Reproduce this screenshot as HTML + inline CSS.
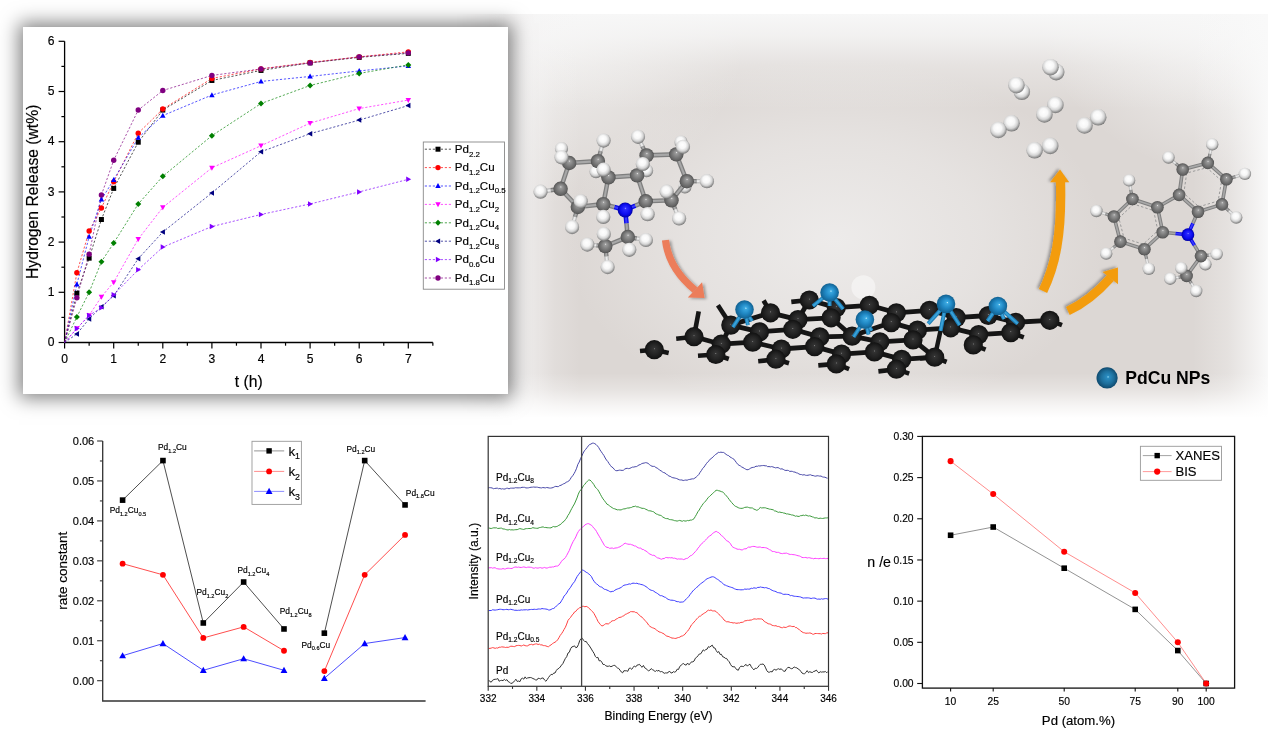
<!DOCTYPE html>
<html><head><meta charset="utf-8"><title>Figure</title>
<style>
html,body{margin:0;padding:0;background:#fff;}
body{width:1268px;height:732px;overflow:hidden;position:relative;}
#panel{position:absolute;left:455px;top:14px;width:813px;height:404px;
-webkit-mask-image:linear-gradient(to right, transparent 0px, #000 50px);mask-image:linear-gradient(to right, transparent 0px, #000 50px);
background:
linear-gradient(to top, #fff 0px, rgba(255,255,255,0.75) 12px, rgba(255,255,255,0.3) 28px, rgba(255,255,255,0) 45px),
linear-gradient(to left, rgba(249,249,249,1) 0px, rgba(249,249,249,0.75) 14px, rgba(249,249,249,0.3) 40px, rgba(249,249,249,0) 75px),
linear-gradient(to right, rgba(245,244,244,0.95) 60px, rgba(245,244,244,0.6) 78px, rgba(245,244,244,0.2) 100px, rgba(245,244,244,0) 125px),
linear-gradient(to bottom, rgba(247,247,247,1) 0px, rgba(247,247,247,0.8) 22px, rgba(247,247,247,0.35) 52px, rgba(247,247,247,0) 95px),
radial-gradient(ellipse 230px 170px at 813px 0px, rgba(249,249,249,1) 0%, rgba(249,249,249,0.5) 50%, rgba(249,249,249,0) 100%),
radial-gradient(ellipse 200px 170px at 90px 20px, rgba(242,241,240,0.9) 0%, rgba(242,241,240,0) 100%),
radial-gradient(ellipse 270px 180px at 380px 225px, rgba(237,235,234,1) 0%, rgba(237,235,234,0.55) 55%, rgba(237,235,234,0) 100%),
#dcd7d4;}
#box1{position:absolute;left:23px;top:27px;width:485px;height:367px;background:#fff;box-shadow:0 0 18px 4px rgba(0,0,0,0.5);}
svg{position:absolute;left:0;top:0;}
#plots text{stroke:#000;stroke-width:0.16px;}
</style></head><body>
<div id="panel"></div>
<svg width="1268" height="732" viewBox="0 0 1268 732">
<defs>
<radialGradient id="gC" cx="0.5" cy="0.5" r="0.5" fx="0.52" fy="0.36"><stop offset="0" stop-color="#e8e8e8"/><stop offset="0.14" stop-color="#9c9c9c"/><stop offset="0.55" stop-color="#7b7b7b"/><stop offset="0.88" stop-color="#616161"/><stop offset="1" stop-color="#4a4a4a"/></radialGradient>
<radialGradient id="gH" cx="0.46" cy="0.42" r="0.6" fx="0.45" fy="0.36"><stop offset="0" stop-color="#ffffff"/><stop offset="0.4" stop-color="#f7f7f7"/><stop offset="0.68" stop-color="#d4d4d4"/><stop offset="0.84" stop-color="#a0a0a0"/><stop offset="1" stop-color="#6a6a6a"/></radialGradient>
<radialGradient id="gN" cx="0.5" cy="0.5" r="0.5" fx="0.52" fy="0.38"><stop offset="0" stop-color="#a0a0ff"/><stop offset="0.15" stop-color="#2a2aff"/><stop offset="0.7" stop-color="#0a0aee"/><stop offset="1" stop-color="#0000a0"/></radialGradient>
<radialGradient id="gG" cx="0.5" cy="0.5" r="0.5" fx="0.5" fy="0.45"><stop offset="0" stop-color="#8a8a8a"/><stop offset="0.09" stop-color="#333"/><stop offset="0.6" stop-color="#222"/><stop offset="1" stop-color="#111"/></radialGradient>
<radialGradient id="gP2" cx="0.5" cy="0.5" r="0.5" fx="0.55" fy="0.45"><stop offset="0" stop-color="#8fd8f5"/><stop offset="0.12" stop-color="#2a8cc0"/><stop offset="0.6" stop-color="#1d6f9c"/><stop offset="1" stop-color="#0f4a6e"/></radialGradient>
<radialGradient id="gP" cx="0.5" cy="0.5" r="0.5" fx="0.58" fy="0.42"><stop offset="0" stop-color="#c8f0ff"/><stop offset="0.12" stop-color="#3aa8e0"/><stop offset="0.55" stop-color="#1f86c2"/><stop offset="1" stop-color="#11608f"/></radialGradient>
<filter id="sh" x="-30%" y="-30%" width="160%" height="160%"><feGaussianBlur in="SourceAlpha" stdDeviation="1.8"/><feOffset dx="-1.8" dy="-1.5"/><feComponentTransfer><feFuncA type="linear" slope="0.35"/></feComponentTransfer><feMerge><feMergeNode/><feMergeNode in="SourceGraphic"/></feMerge></filter>
<filter id="sh2" x="-30%" y="-30%" width="160%" height="160%"><feGaussianBlur in="SourceAlpha" stdDeviation="1.8"/><feOffset dx="2.2" dy="0.5"/><feComponentTransfer><feFuncA type="linear" slope="0.35"/></feComponentTransfer><feMerge><feMergeNode/><feMergeNode in="SourceGraphic"/></feMerge></filter>
</defs>
<line x1="569.2" y1="163" x2="565.35" y2="155.85" stroke="#7e7e7e" stroke-width="4.6"/>
<line x1="569.2" y1="163" x2="565.35" y2="155.85" stroke="#a8a8a8" stroke-width="2.07"/>
<line x1="565.35" y1="155.85" x2="561.5" y2="148.7" stroke="#bcbcbc" stroke-width="4.6"/>
<line x1="565.35" y1="155.85" x2="561.5" y2="148.7" stroke="#ececec" stroke-width="2.07"/>
<circle cx="561.5" cy="148.7" r="6.6" fill="url(#gH)"/>
<line x1="676.3" y1="154.4" x2="678.65" y2="148.2" stroke="#7e7e7e" stroke-width="4.6"/>
<line x1="676.3" y1="154.4" x2="678.65" y2="148.2" stroke="#a8a8a8" stroke-width="2.07"/>
<line x1="678.65" y1="148.2" x2="681" y2="142" stroke="#bcbcbc" stroke-width="4.6"/>
<line x1="678.65" y1="148.2" x2="681" y2="142" stroke="#ececec" stroke-width="2.07"/>
<circle cx="681" cy="142" r="6.6" fill="url(#gH)"/>
<line x1="608.4" y1="177.4" x2="602.2" y2="174.5" stroke="#7e7e7e" stroke-width="4.6"/>
<line x1="608.4" y1="177.4" x2="602.2" y2="174.5" stroke="#a8a8a8" stroke-width="2.07"/>
<line x1="602.2" y1="174.5" x2="596" y2="171.6" stroke="#bcbcbc" stroke-width="4.6"/>
<line x1="602.2" y1="174.5" x2="596" y2="171.6" stroke="#ececec" stroke-width="2.07"/>
<circle cx="596" cy="171.6" r="6.6" fill="url(#gH)"/>
<line x1="637.1" y1="175.4" x2="641.85" y2="173.05" stroke="#7e7e7e" stroke-width="4.6"/>
<line x1="637.1" y1="175.4" x2="641.85" y2="173.05" stroke="#a8a8a8" stroke-width="2.07"/>
<line x1="641.85" y1="173.05" x2="646.6" y2="170.7" stroke="#bcbcbc" stroke-width="4.6"/>
<line x1="641.85" y1="173.05" x2="646.6" y2="170.7" stroke="#ececec" stroke-width="2.07"/>
<circle cx="646.6" cy="170.7" r="6.6" fill="url(#gH)"/>
<line x1="686.8" y1="181.2" x2="685.85" y2="184.05" stroke="#7e7e7e" stroke-width="4.6"/>
<line x1="686.8" y1="181.2" x2="685.85" y2="184.05" stroke="#a8a8a8" stroke-width="2.07"/>
<line x1="685.85" y1="184.05" x2="684.9" y2="186.9" stroke="#bcbcbc" stroke-width="4.6"/>
<line x1="685.85" y1="184.05" x2="684.9" y2="186.9" stroke="#ececec" stroke-width="2.07"/>
<circle cx="684.9" cy="186.9" r="6.6" fill="url(#gH)"/>
<line x1="569.2" y1="163" x2="597.9" y2="161.1" stroke="#7e7e7e" stroke-width="4.6"/>
<line x1="569.2" y1="163" x2="597.9" y2="161.1" stroke="#a8a8a8" stroke-width="2.07"/>
<line x1="569.2" y1="163" x2="560.6" y2="188.8" stroke="#7e7e7e" stroke-width="4.6"/>
<line x1="569.2" y1="163" x2="560.6" y2="188.8" stroke="#a8a8a8" stroke-width="2.07"/>
<line x1="560.6" y1="188.8" x2="577.8" y2="207" stroke="#7e7e7e" stroke-width="4.6"/>
<line x1="560.6" y1="188.8" x2="577.8" y2="207" stroke="#a8a8a8" stroke-width="2.07"/>
<line x1="577.8" y1="207" x2="603.3" y2="204.1" stroke="#7e7e7e" stroke-width="4.6"/>
<line x1="577.8" y1="207" x2="603.3" y2="204.1" stroke="#a8a8a8" stroke-width="2.07"/>
<line x1="603.3" y1="204.1" x2="608.4" y2="177.4" stroke="#7e7e7e" stroke-width="4.6"/>
<line x1="603.3" y1="204.1" x2="608.4" y2="177.4" stroke="#a8a8a8" stroke-width="2.07"/>
<line x1="608.4" y1="177.4" x2="597.9" y2="161.1" stroke="#7e7e7e" stroke-width="4.6"/>
<line x1="608.4" y1="177.4" x2="597.9" y2="161.1" stroke="#a8a8a8" stroke-width="2.07"/>
<line x1="608.4" y1="177.4" x2="637.1" y2="175.4" stroke="#7e7e7e" stroke-width="4.6"/>
<line x1="608.4" y1="177.4" x2="637.1" y2="175.4" stroke="#a8a8a8" stroke-width="2.07"/>
<line x1="637.1" y1="175.4" x2="646.6" y2="155.4" stroke="#7e7e7e" stroke-width="4.6"/>
<line x1="637.1" y1="175.4" x2="646.6" y2="155.4" stroke="#a8a8a8" stroke-width="2.07"/>
<line x1="646.6" y1="155.4" x2="676.3" y2="154.4" stroke="#7e7e7e" stroke-width="4.6"/>
<line x1="646.6" y1="155.4" x2="676.3" y2="154.4" stroke="#a8a8a8" stroke-width="2.07"/>
<line x1="676.3" y1="154.4" x2="686.8" y2="181.2" stroke="#7e7e7e" stroke-width="4.6"/>
<line x1="676.3" y1="154.4" x2="686.8" y2="181.2" stroke="#a8a8a8" stroke-width="2.07"/>
<line x1="686.8" y1="181.2" x2="671.5" y2="200.3" stroke="#7e7e7e" stroke-width="4.6"/>
<line x1="686.8" y1="181.2" x2="671.5" y2="200.3" stroke="#a8a8a8" stroke-width="2.07"/>
<line x1="671.5" y1="200.3" x2="645.7" y2="201.3" stroke="#7e7e7e" stroke-width="4.6"/>
<line x1="671.5" y1="200.3" x2="645.7" y2="201.3" stroke="#a8a8a8" stroke-width="2.07"/>
<line x1="645.7" y1="201.3" x2="637.1" y2="175.4" stroke="#7e7e7e" stroke-width="4.6"/>
<line x1="645.7" y1="201.3" x2="637.1" y2="175.4" stroke="#a8a8a8" stroke-width="2.07"/>
<line x1="625.2" y1="210" x2="614.25" y2="207.05" stroke="#0a0ae8" stroke-width="4.6"/>
<line x1="625.2" y1="210" x2="614.25" y2="207.05" stroke="#3a3aff" stroke-width="2.07"/>
<line x1="614.25" y1="207.05" x2="603.3" y2="204.1" stroke="#7e7e7e" stroke-width="4.6"/>
<line x1="614.25" y1="207.05" x2="603.3" y2="204.1" stroke="#a8a8a8" stroke-width="2.07"/>
<line x1="625.2" y1="210" x2="635.45" y2="205.65" stroke="#0a0ae8" stroke-width="4.6"/>
<line x1="625.2" y1="210" x2="635.45" y2="205.65" stroke="#3a3aff" stroke-width="2.07"/>
<line x1="635.45" y1="205.65" x2="645.7" y2="201.3" stroke="#7e7e7e" stroke-width="4.6"/>
<line x1="635.45" y1="205.65" x2="645.7" y2="201.3" stroke="#a8a8a8" stroke-width="2.07"/>
<line x1="625.2" y1="210" x2="626.5" y2="223.5" stroke="#0a0ae8" stroke-width="4.6"/>
<line x1="625.2" y1="210" x2="626.5" y2="223.5" stroke="#3a3aff" stroke-width="2.07"/>
<line x1="626.5" y1="223.5" x2="627.8" y2="237" stroke="#7e7e7e" stroke-width="4.6"/>
<line x1="626.5" y1="223.5" x2="627.8" y2="237" stroke="#a8a8a8" stroke-width="2.07"/>
<line x1="627.8" y1="237" x2="605.3" y2="246.1" stroke="#7e7e7e" stroke-width="4.6"/>
<line x1="627.8" y1="237" x2="605.3" y2="246.1" stroke="#a8a8a8" stroke-width="2.07"/>
<line x1="569.2" y1="163" x2="565.35" y2="160.15" stroke="#7e7e7e" stroke-width="4.4"/>
<line x1="569.2" y1="163" x2="565.35" y2="160.15" stroke="#a8a8a8" stroke-width="1.98"/>
<line x1="565.35" y1="160.15" x2="561.5" y2="157.3" stroke="#bcbcbc" stroke-width="4.4"/>
<line x1="565.35" y1="160.15" x2="561.5" y2="157.3" stroke="#ececec" stroke-width="1.98"/>
<line x1="597.9" y1="161.1" x2="600.75" y2="150.85" stroke="#7e7e7e" stroke-width="4.4"/>
<line x1="597.9" y1="161.1" x2="600.75" y2="150.85" stroke="#a8a8a8" stroke-width="1.98"/>
<line x1="600.75" y1="150.85" x2="603.6" y2="140.6" stroke="#bcbcbc" stroke-width="4.4"/>
<line x1="600.75" y1="150.85" x2="603.6" y2="140.6" stroke="#ececec" stroke-width="1.98"/>
<line x1="646.6" y1="155.4" x2="642.3" y2="146.1" stroke="#7e7e7e" stroke-width="4.4"/>
<line x1="646.6" y1="155.4" x2="642.3" y2="146.1" stroke="#a8a8a8" stroke-width="1.98"/>
<line x1="642.3" y1="146.1" x2="638" y2="136.8" stroke="#bcbcbc" stroke-width="4.4"/>
<line x1="642.3" y1="146.1" x2="638" y2="136.8" stroke="#ececec" stroke-width="1.98"/>
<line x1="676.3" y1="154.4" x2="679.65" y2="150.6" stroke="#7e7e7e" stroke-width="4.4"/>
<line x1="676.3" y1="154.4" x2="679.65" y2="150.6" stroke="#a8a8a8" stroke-width="1.98"/>
<line x1="679.65" y1="150.6" x2="683" y2="146.8" stroke="#bcbcbc" stroke-width="4.4"/>
<line x1="679.65" y1="150.6" x2="683" y2="146.8" stroke="#ececec" stroke-width="1.98"/>
<line x1="560.6" y1="188.8" x2="550.55" y2="190.25" stroke="#7e7e7e" stroke-width="4.4"/>
<line x1="560.6" y1="188.8" x2="550.55" y2="190.25" stroke="#a8a8a8" stroke-width="1.98"/>
<line x1="550.55" y1="190.25" x2="540.5" y2="191.7" stroke="#bcbcbc" stroke-width="4.4"/>
<line x1="550.55" y1="190.25" x2="540.5" y2="191.7" stroke="#ececec" stroke-width="1.98"/>
<line x1="577.8" y1="207" x2="579.25" y2="204.15" stroke="#7e7e7e" stroke-width="4.4"/>
<line x1="577.8" y1="207" x2="579.25" y2="204.15" stroke="#a8a8a8" stroke-width="1.98"/>
<line x1="579.25" y1="204.15" x2="580.7" y2="201.3" stroke="#bcbcbc" stroke-width="4.4"/>
<line x1="579.25" y1="204.15" x2="580.7" y2="201.3" stroke="#ececec" stroke-width="1.98"/>
<line x1="577.8" y1="207" x2="574.95" y2="217.05" stroke="#7e7e7e" stroke-width="4.4"/>
<line x1="577.8" y1="207" x2="574.95" y2="217.05" stroke="#a8a8a8" stroke-width="1.98"/>
<line x1="574.95" y1="217.05" x2="572.1" y2="227.1" stroke="#bcbcbc" stroke-width="4.4"/>
<line x1="574.95" y1="217.05" x2="572.1" y2="227.1" stroke="#ececec" stroke-width="1.98"/>
<line x1="608.4" y1="177.4" x2="606" y2="173.55" stroke="#7e7e7e" stroke-width="4.4"/>
<line x1="608.4" y1="177.4" x2="606" y2="173.55" stroke="#a8a8a8" stroke-width="1.98"/>
<line x1="606" y1="173.55" x2="603.6" y2="169.7" stroke="#bcbcbc" stroke-width="4.4"/>
<line x1="606" y1="173.55" x2="603.6" y2="169.7" stroke="#ececec" stroke-width="1.98"/>
<line x1="637.1" y1="175.4" x2="639.95" y2="169.7" stroke="#7e7e7e" stroke-width="4.4"/>
<line x1="637.1" y1="175.4" x2="639.95" y2="169.7" stroke="#a8a8a8" stroke-width="1.98"/>
<line x1="639.95" y1="169.7" x2="642.8" y2="164" stroke="#bcbcbc" stroke-width="4.4"/>
<line x1="639.95" y1="169.7" x2="642.8" y2="164" stroke="#ececec" stroke-width="1.98"/>
<line x1="686.8" y1="181.2" x2="696.85" y2="181.2" stroke="#7e7e7e" stroke-width="4.4"/>
<line x1="686.8" y1="181.2" x2="696.85" y2="181.2" stroke="#a8a8a8" stroke-width="1.98"/>
<line x1="696.85" y1="181.2" x2="706.9" y2="181.2" stroke="#bcbcbc" stroke-width="4.4"/>
<line x1="696.85" y1="181.2" x2="706.9" y2="181.2" stroke="#ececec" stroke-width="1.98"/>
<line x1="671.5" y1="200.3" x2="669.1" y2="196" stroke="#7e7e7e" stroke-width="4.4"/>
<line x1="671.5" y1="200.3" x2="669.1" y2="196" stroke="#a8a8a8" stroke-width="1.98"/>
<line x1="669.1" y1="196" x2="666.7" y2="191.7" stroke="#bcbcbc" stroke-width="4.4"/>
<line x1="669.1" y1="196" x2="666.7" y2="191.7" stroke="#ececec" stroke-width="1.98"/>
<line x1="603.3" y1="204.1" x2="603.3" y2="210.5" stroke="#7e7e7e" stroke-width="4.4"/>
<line x1="603.3" y1="204.1" x2="603.3" y2="210.5" stroke="#a8a8a8" stroke-width="1.98"/>
<line x1="603.3" y1="210.5" x2="603.3" y2="216.9" stroke="#bcbcbc" stroke-width="4.4"/>
<line x1="603.3" y1="210.5" x2="603.3" y2="216.9" stroke="#ececec" stroke-width="1.98"/>
<line x1="645.7" y1="201.3" x2="646.65" y2="207.75" stroke="#7e7e7e" stroke-width="4.4"/>
<line x1="645.7" y1="201.3" x2="646.65" y2="207.75" stroke="#a8a8a8" stroke-width="1.98"/>
<line x1="646.65" y1="207.75" x2="647.6" y2="214.2" stroke="#bcbcbc" stroke-width="4.4"/>
<line x1="646.65" y1="207.75" x2="647.6" y2="214.2" stroke="#ececec" stroke-width="1.98"/>
<line x1="671.5" y1="200.3" x2="675.3" y2="209.4" stroke="#7e7e7e" stroke-width="4.4"/>
<line x1="671.5" y1="200.3" x2="675.3" y2="209.4" stroke="#a8a8a8" stroke-width="1.98"/>
<line x1="675.3" y1="209.4" x2="679.1" y2="218.5" stroke="#bcbcbc" stroke-width="4.4"/>
<line x1="675.3" y1="209.4" x2="679.1" y2="218.5" stroke="#ececec" stroke-width="1.98"/>
<line x1="605.3" y1="246.1" x2="604.55" y2="240.05" stroke="#7e7e7e" stroke-width="4.4"/>
<line x1="605.3" y1="246.1" x2="604.55" y2="240.05" stroke="#a8a8a8" stroke-width="1.98"/>
<line x1="604.55" y1="240.05" x2="603.8" y2="234" stroke="#bcbcbc" stroke-width="4.4"/>
<line x1="604.55" y1="240.05" x2="603.8" y2="234" stroke="#ececec" stroke-width="1.98"/>
<line x1="605.3" y1="246.1" x2="596.3" y2="245.35" stroke="#7e7e7e" stroke-width="4.4"/>
<line x1="605.3" y1="246.1" x2="596.3" y2="245.35" stroke="#a8a8a8" stroke-width="1.98"/>
<line x1="596.3" y1="245.35" x2="587.3" y2="244.6" stroke="#bcbcbc" stroke-width="4.4"/>
<line x1="596.3" y1="245.35" x2="587.3" y2="244.6" stroke="#ececec" stroke-width="1.98"/>
<line x1="605.3" y1="246.1" x2="606.45" y2="256.6" stroke="#7e7e7e" stroke-width="4.4"/>
<line x1="605.3" y1="246.1" x2="606.45" y2="256.6" stroke="#a8a8a8" stroke-width="1.98"/>
<line x1="606.45" y1="256.6" x2="607.6" y2="267.1" stroke="#bcbcbc" stroke-width="4.4"/>
<line x1="606.45" y1="256.6" x2="607.6" y2="267.1" stroke="#ececec" stroke-width="1.98"/>
<line x1="627.8" y1="237" x2="636.85" y2="238.5" stroke="#7e7e7e" stroke-width="4.4"/>
<line x1="627.8" y1="237" x2="636.85" y2="238.5" stroke="#a8a8a8" stroke-width="1.98"/>
<line x1="636.85" y1="238.5" x2="645.9" y2="240" stroke="#bcbcbc" stroke-width="4.4"/>
<line x1="636.85" y1="238.5" x2="645.9" y2="240" stroke="#ececec" stroke-width="1.98"/>
<line x1="627.8" y1="237" x2="628.55" y2="243.4" stroke="#7e7e7e" stroke-width="4.4"/>
<line x1="627.8" y1="237" x2="628.55" y2="243.4" stroke="#a8a8a8" stroke-width="1.98"/>
<line x1="628.55" y1="243.4" x2="629.3" y2="249.8" stroke="#bcbcbc" stroke-width="4.4"/>
<line x1="628.55" y1="243.4" x2="629.3" y2="249.8" stroke="#ececec" stroke-width="1.98"/>
<circle cx="569.2" cy="163" r="7.2" fill="url(#gC)"/>
<circle cx="597.9" cy="161.1" r="7.2" fill="url(#gC)"/>
<circle cx="560.6" cy="188.8" r="7.2" fill="url(#gC)"/>
<circle cx="577.8" cy="207" r="7.2" fill="url(#gC)"/>
<circle cx="603.3" cy="204.1" r="7.2" fill="url(#gC)"/>
<circle cx="608.4" cy="177.4" r="7.2" fill="url(#gC)"/>
<circle cx="637.1" cy="175.4" r="7.2" fill="url(#gC)"/>
<circle cx="646.6" cy="155.4" r="7.2" fill="url(#gC)"/>
<circle cx="676.3" cy="154.4" r="7.2" fill="url(#gC)"/>
<circle cx="686.8" cy="181.2" r="7.2" fill="url(#gC)"/>
<circle cx="671.5" cy="200.3" r="7.2" fill="url(#gC)"/>
<circle cx="645.7" cy="201.3" r="7.2" fill="url(#gC)"/>
<circle cx="627.8" cy="237" r="7.2" fill="url(#gC)"/>
<circle cx="605.3" cy="246.1" r="7.2" fill="url(#gC)"/>
<circle cx="625.2" cy="210" r="7.5" fill="url(#gN)"/>
<circle cx="561.5" cy="157.3" r="7.1" fill="url(#gH)"/>
<circle cx="603.6" cy="140.6" r="7.1" fill="url(#gH)"/>
<circle cx="638" cy="136.8" r="7.1" fill="url(#gH)"/>
<circle cx="683" cy="146.8" r="7.1" fill="url(#gH)"/>
<circle cx="540.5" cy="191.7" r="7.1" fill="url(#gH)"/>
<circle cx="580.7" cy="201.3" r="7.1" fill="url(#gH)"/>
<circle cx="572.1" cy="227.1" r="7.1" fill="url(#gH)"/>
<circle cx="603.6" cy="169.7" r="7.1" fill="url(#gH)"/>
<circle cx="642.8" cy="164" r="7.1" fill="url(#gH)"/>
<circle cx="706.9" cy="181.2" r="7.1" fill="url(#gH)"/>
<circle cx="666.7" cy="191.7" r="7.1" fill="url(#gH)"/>
<circle cx="603.3" cy="216.9" r="7.1" fill="url(#gH)"/>
<circle cx="647.6" cy="214.2" r="7.1" fill="url(#gH)"/>
<circle cx="679.1" cy="218.5" r="7.1" fill="url(#gH)"/>
<circle cx="603.8" cy="234" r="7.1" fill="url(#gH)"/>
<circle cx="587.3" cy="244.6" r="7.1" fill="url(#gH)"/>
<circle cx="607.6" cy="267.1" r="7.1" fill="url(#gH)"/>
<circle cx="645.9" cy="240" r="7.1" fill="url(#gH)"/>
<circle cx="629.3" cy="249.8" r="7.1" fill="url(#gH)"/>
<polygon points="1133.63,204.06 1118.83,218.06 1124.03,238.14 1143.23,244.22 1157.87,230.62 1153.63,210.62" fill="none" stroke="#9a9a9a" stroke-width="1" stroke-dasharray="2.5,2"/>
<polygon points="1183.81,193.34 1186.69,173.02 1206.77,167.74 1221.65,180.86 1218.13,200.94 1198.93,206.78" fill="none" stroke="#9a9a9a" stroke-width="1" stroke-dasharray="2.5,2"/>
<line x1="1132.4" y1="199" x2="1113.9" y2="216.5" stroke="#7e7e7e" stroke-width="3.6"/>
<line x1="1132.4" y1="199" x2="1113.9" y2="216.5" stroke="#a8a8a8" stroke-width="1.62"/>
<line x1="1113.9" y1="216.5" x2="1120.4" y2="241.6" stroke="#7e7e7e" stroke-width="3.6"/>
<line x1="1113.9" y1="216.5" x2="1120.4" y2="241.6" stroke="#a8a8a8" stroke-width="1.62"/>
<line x1="1120.4" y1="241.6" x2="1144.4" y2="249.2" stroke="#7e7e7e" stroke-width="3.6"/>
<line x1="1120.4" y1="241.6" x2="1144.4" y2="249.2" stroke="#a8a8a8" stroke-width="1.62"/>
<line x1="1144.4" y1="249.2" x2="1162.7" y2="232.2" stroke="#7e7e7e" stroke-width="3.6"/>
<line x1="1144.4" y1="249.2" x2="1162.7" y2="232.2" stroke="#a8a8a8" stroke-width="1.62"/>
<line x1="1162.7" y1="232.2" x2="1157.4" y2="207.2" stroke="#7e7e7e" stroke-width="3.6"/>
<line x1="1162.7" y1="232.2" x2="1157.4" y2="207.2" stroke="#a8a8a8" stroke-width="1.62"/>
<line x1="1157.4" y1="207.2" x2="1132.4" y2="199" stroke="#7e7e7e" stroke-width="3.6"/>
<line x1="1157.4" y1="207.2" x2="1132.4" y2="199" stroke="#a8a8a8" stroke-width="1.62"/>
<line x1="1157.4" y1="207.2" x2="1179.1" y2="194.9" stroke="#7e7e7e" stroke-width="3.6"/>
<line x1="1157.4" y1="207.2" x2="1179.1" y2="194.9" stroke="#a8a8a8" stroke-width="1.62"/>
<line x1="1179.1" y1="194.9" x2="1182.7" y2="169.5" stroke="#7e7e7e" stroke-width="3.6"/>
<line x1="1179.1" y1="194.9" x2="1182.7" y2="169.5" stroke="#a8a8a8" stroke-width="1.62"/>
<line x1="1182.7" y1="169.5" x2="1207.8" y2="162.9" stroke="#7e7e7e" stroke-width="3.6"/>
<line x1="1182.7" y1="169.5" x2="1207.8" y2="162.9" stroke="#a8a8a8" stroke-width="1.62"/>
<line x1="1207.8" y1="162.9" x2="1226.4" y2="179.3" stroke="#7e7e7e" stroke-width="3.6"/>
<line x1="1207.8" y1="162.9" x2="1226.4" y2="179.3" stroke="#a8a8a8" stroke-width="1.62"/>
<line x1="1226.4" y1="179.3" x2="1222" y2="204.4" stroke="#7e7e7e" stroke-width="3.6"/>
<line x1="1226.4" y1="179.3" x2="1222" y2="204.4" stroke="#a8a8a8" stroke-width="1.62"/>
<line x1="1222" y1="204.4" x2="1198" y2="211.7" stroke="#7e7e7e" stroke-width="3.6"/>
<line x1="1222" y1="204.4" x2="1198" y2="211.7" stroke="#a8a8a8" stroke-width="1.62"/>
<line x1="1198" y1="211.7" x2="1179.1" y2="194.9" stroke="#7e7e7e" stroke-width="3.6"/>
<line x1="1198" y1="211.7" x2="1179.1" y2="194.9" stroke="#a8a8a8" stroke-width="1.62"/>
<line x1="1187.9" y1="234.7" x2="1175.3" y2="233.45" stroke="#0a0ae8" stroke-width="3.6"/>
<line x1="1187.9" y1="234.7" x2="1175.3" y2="233.45" stroke="#3a3aff" stroke-width="1.62"/>
<line x1="1175.3" y1="233.45" x2="1162.7" y2="232.2" stroke="#7e7e7e" stroke-width="3.6"/>
<line x1="1175.3" y1="233.45" x2="1162.7" y2="232.2" stroke="#a8a8a8" stroke-width="1.62"/>
<line x1="1187.9" y1="234.7" x2="1192.95" y2="223.2" stroke="#0a0ae8" stroke-width="3.6"/>
<line x1="1187.9" y1="234.7" x2="1192.95" y2="223.2" stroke="#3a3aff" stroke-width="1.62"/>
<line x1="1192.95" y1="223.2" x2="1198" y2="211.7" stroke="#7e7e7e" stroke-width="3.6"/>
<line x1="1192.95" y1="223.2" x2="1198" y2="211.7" stroke="#a8a8a8" stroke-width="1.62"/>
<line x1="1187.9" y1="234.7" x2="1194.45" y2="245.4" stroke="#0a0ae8" stroke-width="3.6"/>
<line x1="1187.9" y1="234.7" x2="1194.45" y2="245.4" stroke="#3a3aff" stroke-width="1.62"/>
<line x1="1194.45" y1="245.4" x2="1201" y2="256.1" stroke="#7e7e7e" stroke-width="3.6"/>
<line x1="1194.45" y1="245.4" x2="1201" y2="256.1" stroke="#a8a8a8" stroke-width="1.62"/>
<line x1="1201" y1="256.1" x2="1186.6" y2="275.9" stroke="#7e7e7e" stroke-width="3.6"/>
<line x1="1201" y1="256.1" x2="1186.6" y2="275.9" stroke="#a8a8a8" stroke-width="1.62"/>
<line x1="1132.4" y1="199" x2="1130.75" y2="189.7" stroke="#7e7e7e" stroke-width="3.2"/>
<line x1="1132.4" y1="199" x2="1130.75" y2="189.7" stroke="#a8a8a8" stroke-width="1.44"/>
<line x1="1130.75" y1="189.7" x2="1129.1" y2="180.4" stroke="#bcbcbc" stroke-width="3.2"/>
<line x1="1130.75" y1="189.7" x2="1129.1" y2="180.4" stroke="#ececec" stroke-width="1.44"/>
<line x1="1113.9" y1="216.5" x2="1105.15" y2="213.75" stroke="#7e7e7e" stroke-width="3.2"/>
<line x1="1113.9" y1="216.5" x2="1105.15" y2="213.75" stroke="#a8a8a8" stroke-width="1.44"/>
<line x1="1105.15" y1="213.75" x2="1096.4" y2="211" stroke="#bcbcbc" stroke-width="3.2"/>
<line x1="1105.15" y1="213.75" x2="1096.4" y2="211" stroke="#ececec" stroke-width="1.44"/>
<line x1="1120.4" y1="241.6" x2="1113.3" y2="247.6" stroke="#7e7e7e" stroke-width="3.2"/>
<line x1="1120.4" y1="241.6" x2="1113.3" y2="247.6" stroke="#a8a8a8" stroke-width="1.44"/>
<line x1="1113.3" y1="247.6" x2="1106.2" y2="253.6" stroke="#bcbcbc" stroke-width="3.2"/>
<line x1="1113.3" y1="247.6" x2="1106.2" y2="253.6" stroke="#ececec" stroke-width="1.44"/>
<line x1="1144.4" y1="249.2" x2="1146.6" y2="259.05" stroke="#7e7e7e" stroke-width="3.2"/>
<line x1="1144.4" y1="249.2" x2="1146.6" y2="259.05" stroke="#a8a8a8" stroke-width="1.44"/>
<line x1="1146.6" y1="259.05" x2="1148.8" y2="268.9" stroke="#bcbcbc" stroke-width="3.2"/>
<line x1="1146.6" y1="259.05" x2="1148.8" y2="268.9" stroke="#ececec" stroke-width="1.44"/>
<line x1="1182.7" y1="169.5" x2="1175.6" y2="163.5" stroke="#7e7e7e" stroke-width="3.2"/>
<line x1="1182.7" y1="169.5" x2="1175.6" y2="163.5" stroke="#a8a8a8" stroke-width="1.44"/>
<line x1="1175.6" y1="163.5" x2="1168.5" y2="157.5" stroke="#bcbcbc" stroke-width="3.2"/>
<line x1="1175.6" y1="163.5" x2="1168.5" y2="157.5" stroke="#ececec" stroke-width="1.44"/>
<line x1="1207.8" y1="162.9" x2="1210" y2="153.65" stroke="#7e7e7e" stroke-width="3.2"/>
<line x1="1207.8" y1="162.9" x2="1210" y2="153.65" stroke="#a8a8a8" stroke-width="1.44"/>
<line x1="1210" y1="153.65" x2="1212.2" y2="144.4" stroke="#bcbcbc" stroke-width="3.2"/>
<line x1="1210" y1="153.65" x2="1212.2" y2="144.4" stroke="#ececec" stroke-width="1.44"/>
<line x1="1226.4" y1="179.3" x2="1235.65" y2="176.6" stroke="#7e7e7e" stroke-width="3.2"/>
<line x1="1226.4" y1="179.3" x2="1235.65" y2="176.6" stroke="#a8a8a8" stroke-width="1.44"/>
<line x1="1235.65" y1="176.6" x2="1244.9" y2="173.9" stroke="#bcbcbc" stroke-width="3.2"/>
<line x1="1235.65" y1="176.6" x2="1244.9" y2="173.9" stroke="#ececec" stroke-width="1.44"/>
<line x1="1222" y1="204.4" x2="1229.1" y2="210.95" stroke="#7e7e7e" stroke-width="3.2"/>
<line x1="1222" y1="204.4" x2="1229.1" y2="210.95" stroke="#a8a8a8" stroke-width="1.44"/>
<line x1="1229.1" y1="210.95" x2="1236.2" y2="217.5" stroke="#bcbcbc" stroke-width="3.2"/>
<line x1="1229.1" y1="210.95" x2="1236.2" y2="217.5" stroke="#ececec" stroke-width="1.44"/>
<line x1="1201" y1="256.1" x2="1208.85" y2="255.1" stroke="#7e7e7e" stroke-width="3.2"/>
<line x1="1201" y1="256.1" x2="1208.85" y2="255.1" stroke="#a8a8a8" stroke-width="1.44"/>
<line x1="1208.85" y1="255.1" x2="1216.7" y2="254.1" stroke="#bcbcbc" stroke-width="3.2"/>
<line x1="1208.85" y1="255.1" x2="1216.7" y2="254.1" stroke="#ececec" stroke-width="1.44"/>
<line x1="1201" y1="256.1" x2="1203.2" y2="260.2" stroke="#7e7e7e" stroke-width="3.2"/>
<line x1="1201" y1="256.1" x2="1203.2" y2="260.2" stroke="#a8a8a8" stroke-width="1.44"/>
<line x1="1203.2" y1="260.2" x2="1205.4" y2="264.3" stroke="#bcbcbc" stroke-width="3.2"/>
<line x1="1203.2" y1="260.2" x2="1205.4" y2="264.3" stroke="#ececec" stroke-width="1.44"/>
<line x1="1186.6" y1="275.9" x2="1183.9" y2="272" stroke="#7e7e7e" stroke-width="3.2"/>
<line x1="1186.6" y1="275.9" x2="1183.9" y2="272" stroke="#a8a8a8" stroke-width="1.44"/>
<line x1="1183.9" y1="272" x2="1181.2" y2="268.1" stroke="#bcbcbc" stroke-width="3.2"/>
<line x1="1183.9" y1="272" x2="1181.2" y2="268.1" stroke="#ececec" stroke-width="1.44"/>
<line x1="1186.6" y1="275.9" x2="1178.4" y2="277.3" stroke="#7e7e7e" stroke-width="3.2"/>
<line x1="1186.6" y1="275.9" x2="1178.4" y2="277.3" stroke="#a8a8a8" stroke-width="1.44"/>
<line x1="1178.4" y1="277.3" x2="1170.2" y2="278.7" stroke="#bcbcbc" stroke-width="3.2"/>
<line x1="1178.4" y1="277.3" x2="1170.2" y2="278.7" stroke="#ececec" stroke-width="1.44"/>
<line x1="1186.6" y1="275.9" x2="1191.4" y2="283.45" stroke="#7e7e7e" stroke-width="3.2"/>
<line x1="1186.6" y1="275.9" x2="1191.4" y2="283.45" stroke="#a8a8a8" stroke-width="1.44"/>
<line x1="1191.4" y1="283.45" x2="1196.2" y2="291" stroke="#bcbcbc" stroke-width="3.2"/>
<line x1="1191.4" y1="283.45" x2="1196.2" y2="291" stroke="#ececec" stroke-width="1.44"/>
<circle cx="1205.4" cy="264.3" r="6.2" fill="url(#gH)"/>
<circle cx="1132.4" cy="199" r="6.3" fill="url(#gC)"/>
<circle cx="1113.9" cy="216.5" r="6.3" fill="url(#gC)"/>
<circle cx="1120.4" cy="241.6" r="6.3" fill="url(#gC)"/>
<circle cx="1144.4" cy="249.2" r="6.3" fill="url(#gC)"/>
<circle cx="1162.7" cy="232.2" r="6.3" fill="url(#gC)"/>
<circle cx="1157.4" cy="207.2" r="6.3" fill="url(#gC)"/>
<circle cx="1179.1" cy="194.9" r="6.3" fill="url(#gC)"/>
<circle cx="1182.7" cy="169.5" r="6.3" fill="url(#gC)"/>
<circle cx="1207.8" cy="162.9" r="6.3" fill="url(#gC)"/>
<circle cx="1226.4" cy="179.3" r="6.3" fill="url(#gC)"/>
<circle cx="1222" cy="204.4" r="6.3" fill="url(#gC)"/>
<circle cx="1198" cy="211.7" r="6.3" fill="url(#gC)"/>
<circle cx="1187.9" cy="234.7" r="6.4" fill="url(#gN)"/>
<circle cx="1201" cy="256.1" r="6.3" fill="url(#gC)"/>
<circle cx="1186.6" cy="275.9" r="6.3" fill="url(#gC)"/>
<circle cx="1129.1" cy="180.4" r="6.2" fill="url(#gH)"/>
<circle cx="1096.4" cy="211" r="6.2" fill="url(#gH)"/>
<circle cx="1106.2" cy="253.6" r="6.2" fill="url(#gH)"/>
<circle cx="1148.8" cy="268.9" r="6.2" fill="url(#gH)"/>
<circle cx="1168.5" cy="157.5" r="6.2" fill="url(#gH)"/>
<circle cx="1212.2" cy="144.4" r="6.2" fill="url(#gH)"/>
<circle cx="1244.9" cy="173.9" r="6.2" fill="url(#gH)"/>
<circle cx="1236.2" cy="217.5" r="6.2" fill="url(#gH)"/>
<circle cx="1216.7" cy="254.1" r="6.2" fill="url(#gH)"/>
<circle cx="1181.2" cy="268.1" r="6.2" fill="url(#gH)"/>
<circle cx="1170.2" cy="278.7" r="6.2" fill="url(#gH)"/>
<circle cx="1196.2" cy="291" r="6.2" fill="url(#gH)"/>
<circle cx="1056.2" cy="72.1" r="8.3" fill="url(#gH)"/>
<circle cx="1050.5" cy="67.2" r="8.3" fill="url(#gH)"/>
<circle cx="1021.8" cy="91.8" r="8.3" fill="url(#gH)"/>
<circle cx="1016.4" cy="85.2" r="8.3" fill="url(#gH)"/>
<circle cx="1055.4" cy="104.9" r="8.3" fill="url(#gH)"/>
<circle cx="1044.4" cy="114.4" r="8.3" fill="url(#gH)"/>
<circle cx="1011.5" cy="123.3" r="8.3" fill="url(#gH)"/>
<circle cx="998.4" cy="130" r="8.3" fill="url(#gH)"/>
<circle cx="1098.2" cy="117.3" r="8.3" fill="url(#gH)"/>
<circle cx="1084.5" cy="125.5" r="8.3" fill="url(#gH)"/>
<circle cx="1050.2" cy="145.9" r="8.3" fill="url(#gH)"/>
<circle cx="1034.6" cy="150.3" r="8.3" fill="url(#gH)"/>
<circle cx="863.4" cy="287.3" r="12" fill="#ffffff" opacity="0.45"/>
<line x1="654.3" y1="349.7" x2="640" y2="351" stroke="#151515" stroke-width="4.6"/>
<line x1="654.3" y1="349.7" x2="668.7" y2="353" stroke="#151515" stroke-width="4.6"/>
<line x1="694" y1="336.7" x2="676.2" y2="338.7" stroke="#151515" stroke-width="4.6"/>
<line x1="694" y1="336.7" x2="698.7" y2="311.4" stroke="#151515" stroke-width="4.6"/>
<line x1="715.8" y1="354.5" x2="698" y2="355.8" stroke="#151515" stroke-width="4.6"/>
<line x1="715.8" y1="354.5" x2="728.8" y2="359" stroke="#151515" stroke-width="4.6"/>
<line x1="730.8" y1="325.1" x2="717.9" y2="305.3" stroke="#151515" stroke-width="4.6"/>
<line x1="770.5" y1="312.8" x2="763.6" y2="300.5" stroke="#151515" stroke-width="4.6"/>
<line x1="775.9" y1="359.2" x2="758.2" y2="361.3" stroke="#151515" stroke-width="4.6"/>
<line x1="775.9" y1="359.2" x2="789" y2="363.3" stroke="#151515" stroke-width="4.6"/>
<line x1="809.3" y1="300" x2="791.3" y2="301.9" stroke="#151515" stroke-width="4.6"/>
<line x1="836.3" y1="363.9" x2="818.3" y2="365.4" stroke="#151515" stroke-width="4.6"/>
<line x1="836.3" y1="363.9" x2="849.1" y2="369.2" stroke="#151515" stroke-width="4.6"/>
<line x1="896.4" y1="369.2" x2="878.4" y2="371.4" stroke="#151515" stroke-width="4.6"/>
<line x1="896.4" y1="369.2" x2="909.2" y2="373.7" stroke="#151515" stroke-width="4.6"/>
<line x1="934.7" y1="357.2" x2="920" y2="358.5" stroke="#151515" stroke-width="4.6"/>
<line x1="934.7" y1="357.2" x2="946.6" y2="362" stroke="#151515" stroke-width="4.6"/>
<line x1="973.3" y1="344.9" x2="985.6" y2="349.7" stroke="#151515" stroke-width="4.6"/>
<line x1="1010.8" y1="332.6" x2="1023.8" y2="337.4" stroke="#151515" stroke-width="4.6"/>
<line x1="1049.8" y1="320.3" x2="1062" y2="325.1" stroke="#151515" stroke-width="4.6"/>
<line x1="694" y1="336.7" x2="721.3" y2="344.2" stroke="#151515" stroke-width="4.8"/>
<line x1="721.3" y1="344.2" x2="752.7" y2="342.2" stroke="#151515" stroke-width="4.8"/>
<line x1="752.7" y1="342.2" x2="781.4" y2="349" stroke="#151515" stroke-width="4.8"/>
<line x1="781.4" y1="349" x2="814.6" y2="346.6" stroke="#151515" stroke-width="4.8"/>
<line x1="730.8" y1="325.1" x2="759.5" y2="331.9" stroke="#151515" stroke-width="4.8"/>
<line x1="759.5" y1="331.9" x2="792.8" y2="329.3" stroke="#151515" stroke-width="4.8"/>
<line x1="730.8" y1="325.1" x2="770.5" y2="312.8" stroke="#151515" stroke-width="4.8"/>
<line x1="770.5" y1="312.8" x2="798" y2="319.6" stroke="#151515" stroke-width="4.8"/>
<line x1="721.3" y1="344.2" x2="730.8" y2="325.1" stroke="#151515" stroke-width="4.8"/>
<line x1="752.7" y1="342.2" x2="759.5" y2="331.9" stroke="#151515" stroke-width="4.8"/>
<line x1="792.8" y1="329.3" x2="819.8" y2="336.9" stroke="#151515" stroke-width="4.8"/>
<line x1="798" y1="319.6" x2="831.1" y2="317.8" stroke="#151515" stroke-width="4.8"/>
<line x1="819.8" y1="336.9" x2="852.1" y2="336.1" stroke="#151515" stroke-width="4.8"/>
<line x1="814.6" y1="346.6" x2="841.6" y2="354.1" stroke="#151515" stroke-width="4.8"/>
<line x1="841.6" y1="354.1" x2="874.4" y2="351.9" stroke="#151515" stroke-width="4.8"/>
<line x1="874.4" y1="351.9" x2="901.7" y2="359.4" stroke="#151515" stroke-width="4.8"/>
<line x1="901.7" y1="359.4" x2="934.7" y2="357.2" stroke="#151515" stroke-width="4.8"/>
<line x1="836.3" y1="307.6" x2="869.4" y2="305.3" stroke="#151515" stroke-width="4.8"/>
<line x1="869.4" y1="305.3" x2="896.4" y2="312.8" stroke="#151515" stroke-width="4.8"/>
<line x1="896.4" y1="312.8" x2="929.5" y2="310.3" stroke="#151515" stroke-width="4.8"/>
<line x1="891.2" y1="322.6" x2="917.5" y2="330.1" stroke="#151515" stroke-width="4.8"/>
<line x1="852.1" y1="336.1" x2="879.9" y2="341.8" stroke="#151515" stroke-width="4.8"/>
<line x1="879.9" y1="341.8" x2="913" y2="339.9" stroke="#151515" stroke-width="4.8"/>
<line x1="852.1" y1="336.1" x2="891.2" y2="322.6" stroke="#151515" stroke-width="4.8"/>
<line x1="809.3" y1="300" x2="836.3" y2="307.6" stroke="#151515" stroke-width="4.8"/>
<line x1="831.1" y1="317.8" x2="852.1" y2="336.1" stroke="#151515" stroke-width="4.8"/>
<line x1="917.5" y1="330.1" x2="950.7" y2="327.8" stroke="#151515" stroke-width="4.8"/>
<line x1="929.5" y1="310.3" x2="956.2" y2="317.6" stroke="#151515" stroke-width="4.8"/>
<line x1="956.2" y1="317.6" x2="988.3" y2="315.5" stroke="#151515" stroke-width="4.8"/>
<line x1="988.3" y1="315.5" x2="1015.6" y2="322.3" stroke="#151515" stroke-width="4.8"/>
<line x1="1015.6" y1="322.3" x2="1049.8" y2="320.3" stroke="#151515" stroke-width="4.8"/>
<line x1="950.7" y1="327.8" x2="978.7" y2="334.6" stroke="#151515" stroke-width="4.8"/>
<line x1="978.7" y1="334.6" x2="1010.8" y2="332.6" stroke="#151515" stroke-width="4.8"/>
<line x1="798" y1="319.6" x2="809.3" y2="300" stroke="#151515" stroke-width="4.8"/>
<line x1="781.4" y1="349" x2="775.9" y2="359.2" stroke="#151515" stroke-width="4.8"/>
<line x1="841.6" y1="354.1" x2="836.3" y2="363.9" stroke="#151515" stroke-width="4.8"/>
<line x1="901.7" y1="359.4" x2="896.4" y2="369.2" stroke="#151515" stroke-width="4.8"/>
<line x1="978.7" y1="334.6" x2="973.3" y2="344.9" stroke="#151515" stroke-width="4.8"/>
<line x1="1010.8" y1="332.6" x2="1015.6" y2="322.3" stroke="#151515" stroke-width="4.8"/>
<line x1="913" y1="339.9" x2="934.7" y2="357.2" stroke="#151515" stroke-width="4.8"/>
<line x1="715.8" y1="354.5" x2="721.3" y2="344.2" stroke="#151515" stroke-width="4.8"/>
<line x1="819.8" y1="336.9" x2="814.6" y2="346.6" stroke="#151515" stroke-width="4.8"/>
<line x1="879.9" y1="341.8" x2="874.4" y2="351.9" stroke="#151515" stroke-width="4.8"/>
<line x1="950.7" y1="327.8" x2="956.2" y2="317.6" stroke="#151515" stroke-width="4.8"/>
<line x1="940.5" y1="330.8" x2="934.7" y2="357.2" stroke="#151515" stroke-width="4.4"/>
<circle cx="809.3" cy="300" r="9.6" fill="url(#gG)"/>
<circle cx="869.4" cy="305.3" r="9.6" fill="url(#gG)"/>
<circle cx="836.3" cy="307.6" r="9.6" fill="url(#gG)"/>
<circle cx="929.5" cy="310.3" r="9.6" fill="url(#gG)"/>
<circle cx="770.5" cy="312.8" r="9.6" fill="url(#gG)"/>
<circle cx="896.4" cy="312.8" r="9.6" fill="url(#gG)"/>
<circle cx="988.3" cy="315.5" r="9.6" fill="url(#gG)"/>
<circle cx="956.2" cy="317.6" r="9.6" fill="url(#gG)"/>
<circle cx="831.1" cy="317.8" r="9.6" fill="url(#gG)"/>
<circle cx="798" cy="319.6" r="9.6" fill="url(#gG)"/>
<circle cx="1049.8" cy="320.3" r="9.6" fill="url(#gG)"/>
<circle cx="1015.6" cy="322.3" r="9.6" fill="url(#gG)"/>
<circle cx="891.2" cy="322.6" r="9.6" fill="url(#gG)"/>
<circle cx="730.8" cy="325.1" r="9.6" fill="url(#gG)"/>
<circle cx="950.7" cy="327.8" r="9.6" fill="url(#gG)"/>
<circle cx="792.8" cy="329.3" r="9.6" fill="url(#gG)"/>
<circle cx="917.5" cy="330.1" r="9.6" fill="url(#gG)"/>
<circle cx="759.5" cy="331.9" r="9.6" fill="url(#gG)"/>
<circle cx="1010.8" cy="332.6" r="9.6" fill="url(#gG)"/>
<circle cx="978.7" cy="334.6" r="9.6" fill="url(#gG)"/>
<circle cx="852.1" cy="336.1" r="9.6" fill="url(#gG)"/>
<circle cx="694" cy="336.7" r="9.6" fill="url(#gG)"/>
<circle cx="819.8" cy="336.9" r="9.6" fill="url(#gG)"/>
<circle cx="913" cy="339.9" r="9.6" fill="url(#gG)"/>
<circle cx="879.9" cy="341.8" r="9.6" fill="url(#gG)"/>
<circle cx="752.7" cy="342.2" r="9.6" fill="url(#gG)"/>
<circle cx="721.3" cy="344.2" r="9.6" fill="url(#gG)"/>
<circle cx="973.3" cy="344.9" r="9.6" fill="url(#gG)"/>
<circle cx="814.6" cy="346.6" r="9.6" fill="url(#gG)"/>
<circle cx="781.4" cy="349" r="9.6" fill="url(#gG)"/>
<circle cx="654.3" cy="349.7" r="9.6" fill="url(#gG)"/>
<circle cx="874.4" cy="351.9" r="9.6" fill="url(#gG)"/>
<circle cx="841.6" cy="354.1" r="9.6" fill="url(#gG)"/>
<circle cx="715.8" cy="354.5" r="9.6" fill="url(#gG)"/>
<circle cx="934.7" cy="357.2" r="9.6" fill="url(#gG)"/>
<circle cx="775.9" cy="359.2" r="9.6" fill="url(#gG)"/>
<circle cx="901.7" cy="359.4" r="9.6" fill="url(#gG)"/>
<circle cx="836.3" cy="363.9" r="9.6" fill="url(#gG)"/>
<circle cx="896.4" cy="369.2" r="9.6" fill="url(#gG)"/>
<line x1="744.5" y1="309.6" x2="732.9" y2="327.1" stroke="#1e7fb8" stroke-width="4"/>
<line x1="744.5" y1="309.6" x2="732.9" y2="327.1" stroke="#3aa2d8" stroke-width="1.8"/>
<line x1="744.5" y1="309.6" x2="747.9" y2="325.1" stroke="#1e7fb8" stroke-width="4"/>
<line x1="744.5" y1="309.6" x2="747.9" y2="325.1" stroke="#3aa2d8" stroke-width="1.8"/>
<line x1="744.5" y1="309.6" x2="752" y2="321" stroke="#1e7fb8" stroke-width="4"/>
<line x1="744.5" y1="309.6" x2="752" y2="321" stroke="#3aa2d8" stroke-width="1.8"/>
<line x1="829.6" y1="292.5" x2="813" y2="306" stroke="#1e7fb8" stroke-width="4"/>
<line x1="829.6" y1="292.5" x2="813" y2="306" stroke="#3aa2d8" stroke-width="1.8"/>
<line x1="829.6" y1="292.5" x2="829.6" y2="306" stroke="#1e7fb8" stroke-width="4"/>
<line x1="829.6" y1="292.5" x2="829.6" y2="306" stroke="#3aa2d8" stroke-width="1.8"/>
<line x1="829.6" y1="292.5" x2="843.1" y2="309" stroke="#1e7fb8" stroke-width="4"/>
<line x1="829.6" y1="292.5" x2="843.1" y2="309" stroke="#3aa2d8" stroke-width="1.8"/>
<line x1="864.9" y1="319.6" x2="853.6" y2="336.9" stroke="#1e7fb8" stroke-width="4"/>
<line x1="864.9" y1="319.6" x2="853.6" y2="336.9" stroke="#3aa2d8" stroke-width="1.8"/>
<line x1="864.9" y1="319.6" x2="868.6" y2="334.6" stroke="#1e7fb8" stroke-width="4"/>
<line x1="864.9" y1="319.6" x2="868.6" y2="334.6" stroke="#3aa2d8" stroke-width="1.8"/>
<line x1="864.9" y1="319.6" x2="871.6" y2="330.8" stroke="#1e7fb8" stroke-width="4"/>
<line x1="864.9" y1="319.6" x2="871.6" y2="330.8" stroke="#3aa2d8" stroke-width="1.8"/>
<line x1="946" y1="303.9" x2="928.2" y2="323.7" stroke="#1e7fb8" stroke-width="4"/>
<line x1="946" y1="303.9" x2="928.2" y2="323.7" stroke="#3aa2d8" stroke-width="1.8"/>
<line x1="946" y1="303.9" x2="940.5" y2="330.8" stroke="#1e7fb8" stroke-width="4"/>
<line x1="946" y1="303.9" x2="940.5" y2="330.8" stroke="#3aa2d8" stroke-width="1.8"/>
<line x1="946" y1="303.9" x2="959.6" y2="325.1" stroke="#1e7fb8" stroke-width="4"/>
<line x1="946" y1="303.9" x2="959.6" y2="325.1" stroke="#3aa2d8" stroke-width="1.8"/>
<line x1="997.9" y1="306" x2="987.6" y2="321" stroke="#1e7fb8" stroke-width="4"/>
<line x1="997.9" y1="306" x2="987.6" y2="321" stroke="#3aa2d8" stroke-width="1.8"/>
<line x1="997.9" y1="306" x2="1004" y2="319" stroke="#1e7fb8" stroke-width="4"/>
<line x1="997.9" y1="306" x2="1004" y2="319" stroke="#3aa2d8" stroke-width="1.8"/>
<line x1="997.9" y1="306" x2="1017.7" y2="323.7" stroke="#1e7fb8" stroke-width="4"/>
<line x1="997.9" y1="306" x2="1017.7" y2="323.7" stroke="#3aa2d8" stroke-width="1.8"/>
<circle cx="744.5" cy="309.6" r="9.3" fill="url(#gP)"/>
<circle cx="829.6" cy="292.5" r="9.3" fill="url(#gP)"/>
<circle cx="864.9" cy="319.6" r="9.3" fill="url(#gP)"/>
<circle cx="946" cy="303.9" r="9.3" fill="url(#gP)"/>
<circle cx="997.9" cy="306" r="9.3" fill="url(#gP)"/>
<circle cx="1107.1" cy="377.9" r="10.6" fill="url(#gP2)"/>
<text x="1125.2" y="384.4" font-family="'Liberation Sans', Arial, sans-serif" font-weight="bold" font-size="17.6" fill="#000">PdCu NPs</text>
<g filter="url(#sh2)">
<path d="M665.5,240.2 C667.5,258 678,276 695,290" fill="none" stroke="#ec7d5a" stroke-width="7.2"/>
<polygon points="687.8,297.6 702.1,282.2 704.6,298.1" fill="#ec7d5a"/>
</g>
<g filter="url(#sh)">
<path d="M1043,291 C1055,266 1062,236 1060.5,181" fill="none" stroke="#f39c0e" stroke-width="9.2"/>
<polygon points="1050.1,182.3 1069.3,182.3 1060,169.6" fill="#f39c0e"/>
<path d="M1067.9,311 Q1090,301 1110.4,278.1" fill="none" stroke="#f39c0e" stroke-width="9"/>
<polygon points="1102.6,272 1118,284.3 1117.9,267.6" fill="#f39c0e"/>
</g>
</svg>
<div id="box1"></div>
<svg id="plots" width="1268" height="732" viewBox="0 0 1268 732">
<g font-family='"Liberation Sans", Arial, sans-serif' fill="#000">
<path d="M64.6,41.3 V342.5 H432.85" fill="none" stroke="#000" stroke-width="1.3"/>
<line x1="58.6" y1="342.5" x2="64.6" y2="342.5" stroke="#000" stroke-width="1.2"/>
<text x="54.6" y="346.1" font-size="12.1" text-anchor="end">0</text>
<line x1="61.4" y1="317.4" x2="64.6" y2="317.4" stroke="#000" stroke-width="1.2"/>
<line x1="58.6" y1="292.3" x2="64.6" y2="292.3" stroke="#000" stroke-width="1.2"/>
<text x="54.6" y="295.9" font-size="12.1" text-anchor="end">1</text>
<line x1="61.4" y1="267.2" x2="64.6" y2="267.2" stroke="#000" stroke-width="1.2"/>
<line x1="58.6" y1="242.1" x2="64.6" y2="242.1" stroke="#000" stroke-width="1.2"/>
<text x="54.6" y="245.7" font-size="12.1" text-anchor="end">2</text>
<line x1="61.4" y1="217" x2="64.6" y2="217" stroke="#000" stroke-width="1.2"/>
<line x1="58.6" y1="191.9" x2="64.6" y2="191.9" stroke="#000" stroke-width="1.2"/>
<text x="54.6" y="195.5" font-size="12.1" text-anchor="end">3</text>
<line x1="61.4" y1="166.8" x2="64.6" y2="166.8" stroke="#000" stroke-width="1.2"/>
<line x1="58.6" y1="141.7" x2="64.6" y2="141.7" stroke="#000" stroke-width="1.2"/>
<text x="54.6" y="145.3" font-size="12.1" text-anchor="end">4</text>
<line x1="61.4" y1="116.6" x2="64.6" y2="116.6" stroke="#000" stroke-width="1.2"/>
<line x1="58.6" y1="91.5" x2="64.6" y2="91.5" stroke="#000" stroke-width="1.2"/>
<text x="54.6" y="95.1" font-size="12.1" text-anchor="end">5</text>
<line x1="61.4" y1="66.4" x2="64.6" y2="66.4" stroke="#000" stroke-width="1.2"/>
<line x1="58.6" y1="41.3" x2="64.6" y2="41.3" stroke="#000" stroke-width="1.2"/>
<text x="54.6" y="44.9" font-size="12.1" text-anchor="end">6</text>
<line x1="64.6" y1="342.5" x2="64.6" y2="348.5" stroke="#000" stroke-width="1.2"/>
<text x="64.6" y="362.8" font-size="12.1" text-anchor="middle">0</text>
<line x1="89.15" y1="342.5" x2="89.15" y2="345.7" stroke="#000" stroke-width="1.2"/>
<line x1="113.7" y1="342.5" x2="113.7" y2="348.5" stroke="#000" stroke-width="1.2"/>
<text x="113.7" y="362.8" font-size="12.1" text-anchor="middle">1</text>
<line x1="138.25" y1="342.5" x2="138.25" y2="345.7" stroke="#000" stroke-width="1.2"/>
<line x1="162.8" y1="342.5" x2="162.8" y2="348.5" stroke="#000" stroke-width="1.2"/>
<text x="162.8" y="362.8" font-size="12.1" text-anchor="middle">2</text>
<line x1="187.35" y1="342.5" x2="187.35" y2="345.7" stroke="#000" stroke-width="1.2"/>
<line x1="211.9" y1="342.5" x2="211.9" y2="348.5" stroke="#000" stroke-width="1.2"/>
<text x="211.9" y="362.8" font-size="12.1" text-anchor="middle">3</text>
<line x1="236.45" y1="342.5" x2="236.45" y2="345.7" stroke="#000" stroke-width="1.2"/>
<line x1="261" y1="342.5" x2="261" y2="348.5" stroke="#000" stroke-width="1.2"/>
<text x="261" y="362.8" font-size="12.1" text-anchor="middle">4</text>
<line x1="285.55" y1="342.5" x2="285.55" y2="345.7" stroke="#000" stroke-width="1.2"/>
<line x1="310.1" y1="342.5" x2="310.1" y2="348.5" stroke="#000" stroke-width="1.2"/>
<text x="310.1" y="362.8" font-size="12.1" text-anchor="middle">5</text>
<line x1="334.65" y1="342.5" x2="334.65" y2="345.7" stroke="#000" stroke-width="1.2"/>
<line x1="359.2" y1="342.5" x2="359.2" y2="348.5" stroke="#000" stroke-width="1.2"/>
<text x="359.2" y="362.8" font-size="12.1" text-anchor="middle">6</text>
<line x1="383.75" y1="342.5" x2="383.75" y2="345.7" stroke="#000" stroke-width="1.2"/>
<line x1="408.3" y1="342.5" x2="408.3" y2="348.5" stroke="#000" stroke-width="1.2"/>
<text x="408.3" y="362.8" font-size="12.1" text-anchor="middle">7</text>
<line x1="432.85" y1="342.5" x2="432.85" y2="345.7" stroke="#000" stroke-width="1.2"/>
<text x="248.8" y="386.5" font-size="15.7" text-anchor="middle">t (h)</text>
<text transform="translate(37.9,191.8) rotate(-90)" font-size="15.7" text-anchor="middle">Hydrogen Release (wt%)</text>
<polyline points="64.6,342.5 76.88,293.3 89.15,258.16 101.42,219.51 113.7,188.39 138.25,142.2 162.8,110.07 211.9,80.46 261,70.42 310.1,62.89 359.2,57.36 408.3,53.35" fill="none" stroke="#000000" stroke-width="0.9" stroke-dasharray="2.2,1.8" opacity="0.75"/>
<polyline points="64.6,342.5 76.88,272.72 89.15,231.06 101.42,207.96 113.7,181.86 138.25,133.17 162.8,109.07 211.9,78.45 261,68.91 310.1,62.38 359.2,56.86 408.3,51.84" fill="none" stroke="#ff0000" stroke-width="0.9" stroke-dasharray="2.2,1.8" opacity="0.75"/>
<polyline points="64.6,342.5 76.88,284.27 89.15,236.58 101.42,199.43 113.7,179.85 138.25,137.68 162.8,115.6 211.9,95.01 261,81.46 310.1,76.44 359.2,70.92 408.3,65.9" fill="none" stroke="#0000ff" stroke-width="0.9" stroke-dasharray="2.2,1.8" opacity="0.75"/>
<polyline points="64.6,342.5 76.88,328.44 89.15,315.39 101.42,296.82 113.7,282.26 138.25,239.09 162.8,207.46 211.9,167.8 261,145.72 310.1,123.13 359.2,108.57 408.3,100.03" fill="none" stroke="#ff00ff" stroke-width="0.9" stroke-dasharray="2.2,1.8" opacity="0.75"/>
<polyline points="64.6,342.5 76.88,316.9 89.15,292.3 101.42,261.68 113.7,243.1 138.25,203.95 162.8,176.34 211.9,135.68 261,103.55 310.1,85.48 359.2,73.43 408.3,64.89" fill="none" stroke="#008000" stroke-width="0.9" stroke-dasharray="2.2,1.8" opacity="0.75"/>
<polyline points="64.6,342.5 76.88,333.97 89.15,318.91 101.42,306.86 113.7,295.81 138.25,258.67 162.8,232.06 211.9,192.9 261,151.74 310.1,133.67 359.2,120.11 408.3,105.56" fill="none" stroke="#000080" stroke-width="0.9" stroke-dasharray="2.2,1.8" opacity="0.75"/>
<polyline points="64.6,342.5 76.88,328.44 89.15,315.39 101.42,307.86 113.7,294.81 138.25,269.71 162.8,247.12 211.9,226.54 261,214.49 310.1,203.95 359.2,191.9 408.3,179.35" fill="none" stroke="#8000ff" stroke-width="0.9" stroke-dasharray="2.2,1.8" opacity="0.75"/>
<polyline points="64.6,342.5 76.88,297.82 89.15,254.15 101.42,194.91 113.7,160.27 138.25,110.07 162.8,90.5 211.9,75.44 261,68.91 310.1,62.89 359.2,56.86 408.3,52.85" fill="none" stroke="#800080" stroke-width="0.9" stroke-dasharray="2.2,1.8" opacity="0.75"/>
<rect x="74.38" y="290.8" width="5" height="5" fill="#000000"/>
<rect x="86.65" y="255.66" width="5" height="5" fill="#000000"/>
<rect x="98.92" y="217.01" width="5" height="5" fill="#000000"/>
<rect x="111.2" y="185.89" width="5" height="5" fill="#000000"/>
<rect x="135.75" y="139.7" width="5" height="5" fill="#000000"/>
<rect x="160.3" y="107.57" width="5" height="5" fill="#000000"/>
<rect x="209.4" y="77.96" width="5" height="5" fill="#000000"/>
<rect x="258.5" y="67.92" width="5" height="5" fill="#000000"/>
<rect x="307.6" y="60.39" width="5" height="5" fill="#000000"/>
<rect x="356.7" y="54.86" width="5" height="5" fill="#000000"/>
<rect x="405.8" y="50.85" width="5" height="5" fill="#000000"/>
<circle cx="76.88" cy="272.72" r="2.7" fill="#ff0000"/>
<circle cx="89.15" cy="231.06" r="2.7" fill="#ff0000"/>
<circle cx="101.42" cy="207.96" r="2.7" fill="#ff0000"/>
<circle cx="113.7" cy="181.86" r="2.7" fill="#ff0000"/>
<circle cx="138.25" cy="133.17" r="2.7" fill="#ff0000"/>
<circle cx="162.8" cy="109.07" r="2.7" fill="#ff0000"/>
<circle cx="211.9" cy="78.45" r="2.7" fill="#ff0000"/>
<circle cx="261" cy="68.91" r="2.7" fill="#ff0000"/>
<circle cx="310.1" cy="62.38" r="2.7" fill="#ff0000"/>
<circle cx="359.2" cy="56.86" r="2.7" fill="#ff0000"/>
<circle cx="408.3" cy="51.84" r="2.7" fill="#ff0000"/>
<polygon points="76.88,281.39 79.62,286.39 74.12,286.39" fill="#0000ff"/>
<polygon points="89.15,233.7 91.9,238.7 86.4,238.7" fill="#0000ff"/>
<polygon points="101.42,196.55 104.17,201.55 98.67,201.55" fill="#0000ff"/>
<polygon points="113.7,176.98 116.45,181.98 110.95,181.98" fill="#0000ff"/>
<polygon points="138.25,134.81 141,139.81 135.5,139.81" fill="#0000ff"/>
<polygon points="162.8,112.72 165.55,117.72 160.05,117.72" fill="#0000ff"/>
<polygon points="211.9,92.14 214.65,97.14 209.15,97.14" fill="#0000ff"/>
<polygon points="261,78.58 263.75,83.58 258.25,83.58" fill="#0000ff"/>
<polygon points="310.1,73.56 312.85,78.56 307.35,78.56" fill="#0000ff"/>
<polygon points="359.2,68.04 361.95,73.04 356.45,73.04" fill="#0000ff"/>
<polygon points="408.3,63.02 411.05,68.02 405.55,68.02" fill="#0000ff"/>
<polygon points="76.88,331.32 79.62,326.32 74.12,326.32" fill="#ff00ff"/>
<polygon points="89.15,318.27 91.9,313.27 86.4,313.27" fill="#ff00ff"/>
<polygon points="101.42,299.69 104.17,294.69 98.67,294.69" fill="#ff00ff"/>
<polygon points="113.7,285.13 116.45,280.13 110.95,280.13" fill="#ff00ff"/>
<polygon points="138.25,241.96 141,236.96 135.5,236.96" fill="#ff00ff"/>
<polygon points="162.8,210.34 165.55,205.34 160.05,205.34" fill="#ff00ff"/>
<polygon points="211.9,170.68 214.65,165.68 209.15,165.68" fill="#ff00ff"/>
<polygon points="261,148.59 263.75,143.59 258.25,143.59" fill="#ff00ff"/>
<polygon points="310.1,126 312.85,121 307.35,121" fill="#ff00ff"/>
<polygon points="359.2,111.44 361.95,106.44 356.45,106.44" fill="#ff00ff"/>
<polygon points="408.3,102.91 411.05,97.91 405.55,97.91" fill="#ff00ff"/>
<polygon points="76.88,313.9 79.88,316.9 76.88,319.9 73.88,316.9" fill="#008000"/>
<polygon points="89.15,289.3 92.15,292.3 89.15,295.3 86.15,292.3" fill="#008000"/>
<polygon points="101.42,258.68 104.42,261.68 101.42,264.68 98.42,261.68" fill="#008000"/>
<polygon points="113.7,240.1 116.7,243.1 113.7,246.1 110.7,243.1" fill="#008000"/>
<polygon points="138.25,200.95 141.25,203.95 138.25,206.95 135.25,203.95" fill="#008000"/>
<polygon points="162.8,173.34 165.8,176.34 162.8,179.34 159.8,176.34" fill="#008000"/>
<polygon points="211.9,132.68 214.9,135.68 211.9,138.68 208.9,135.68" fill="#008000"/>
<polygon points="261,100.55 264,103.55 261,106.55 258,103.55" fill="#008000"/>
<polygon points="310.1,82.48 313.1,85.48 310.1,88.48 307.1,85.48" fill="#008000"/>
<polygon points="359.2,70.43 362.2,73.43 359.2,76.43 356.2,73.43" fill="#008000"/>
<polygon points="408.3,61.89 411.3,64.89 408.3,67.89 405.3,64.89" fill="#008000"/>
<polygon points="74,333.97 79,331.22 79,336.72" fill="#000080"/>
<polygon points="86.27,318.91 91.27,316.16 91.27,321.66" fill="#000080"/>
<polygon points="98.55,306.86 103.55,304.11 103.55,309.61" fill="#000080"/>
<polygon points="110.82,295.81 115.82,293.06 115.82,298.56" fill="#000080"/>
<polygon points="135.38,258.67 140.38,255.92 140.38,261.42" fill="#000080"/>
<polygon points="159.93,232.06 164.93,229.31 164.93,234.81" fill="#000080"/>
<polygon points="209.03,192.9 214.03,190.15 214.03,195.65" fill="#000080"/>
<polygon points="258.12,151.74 263.12,148.99 263.12,154.49" fill="#000080"/>
<polygon points="307.23,133.67 312.23,130.92 312.23,136.42" fill="#000080"/>
<polygon points="356.33,120.11 361.33,117.36 361.33,122.86" fill="#000080"/>
<polygon points="405.42,105.56 410.42,102.81 410.42,108.31" fill="#000080"/>
<polygon points="79.75,328.44 74.75,325.69 74.75,331.19" fill="#8000ff"/>
<polygon points="92.02,315.39 87.02,312.64 87.02,318.14" fill="#8000ff"/>
<polygon points="104.3,307.86 99.3,305.11 99.3,310.61" fill="#8000ff"/>
<polygon points="116.57,294.81 111.57,292.06 111.57,297.56" fill="#8000ff"/>
<polygon points="141.12,269.71 136.12,266.96 136.12,272.46" fill="#8000ff"/>
<polygon points="165.68,247.12 160.68,244.37 160.68,249.87" fill="#8000ff"/>
<polygon points="214.78,226.54 209.78,223.79 209.78,229.29" fill="#8000ff"/>
<polygon points="263.88,214.49 258.88,211.74 258.88,217.24" fill="#8000ff"/>
<polygon points="312.98,203.95 307.98,201.2 307.98,206.7" fill="#8000ff"/>
<polygon points="362.08,191.9 357.08,189.15 357.08,194.65" fill="#8000ff"/>
<polygon points="411.17,179.35 406.17,176.6 406.17,182.1" fill="#8000ff"/>
<circle cx="76.88" cy="297.82" r="2.7" fill="#800080"/>
<circle cx="89.15" cy="254.15" r="2.7" fill="#800080"/>
<circle cx="101.42" cy="194.91" r="2.7" fill="#800080"/>
<circle cx="113.7" cy="160.27" r="2.7" fill="#800080"/>
<circle cx="138.25" cy="110.07" r="2.7" fill="#800080"/>
<circle cx="162.8" cy="90.5" r="2.7" fill="#800080"/>
<circle cx="211.9" cy="75.44" r="2.7" fill="#800080"/>
<circle cx="261" cy="68.91" r="2.7" fill="#800080"/>
<circle cx="310.1" cy="62.89" r="2.7" fill="#800080"/>
<circle cx="359.2" cy="56.86" r="2.7" fill="#800080"/>
<circle cx="408.3" cy="52.85" r="2.7" fill="#800080"/>
<rect x="423.3" y="142" width="81.2" height="147.2" fill="#fff" stroke="#888" stroke-width="0.9"/>
<line x1="424.8" y1="149.2" x2="451" y2="149.2" stroke="#000000" stroke-width="0.9" stroke-dasharray="2.2,1.8" opacity="0.75"/>
<rect x="435.5" y="146.7" width="5" height="5" fill="#000000"/>
<text x="454.7" y="152.9" font-size="11.6">Pd<tspan font-size="7.9" dy="3.6">2.2</tspan></text>
<line x1="424.8" y1="167.6" x2="451" y2="167.6" stroke="#ff0000" stroke-width="0.9" stroke-dasharray="2.2,1.8" opacity="0.75"/>
<circle cx="438" cy="167.6" r="2.7" fill="#ff0000"/>
<text x="454.7" y="171.3" font-size="11.6">Pd<tspan font-size="7.9" dy="3.6">1.2</tspan><tspan dy="-3.6">Cu</tspan></text>
<line x1="424.8" y1="186" x2="451" y2="186" stroke="#0000ff" stroke-width="0.9" stroke-dasharray="2.2,1.8" opacity="0.75"/>
<polygon points="438,183.12 440.75,188.12 435.25,188.12" fill="#0000ff"/>
<text x="454.7" y="189.7" font-size="11.6">Pd<tspan font-size="7.9" dy="3.6">1.2</tspan><tspan dy="-3.6">Cu</tspan><tspan font-size="7.9" dy="3.6">0.5</tspan></text>
<line x1="424.8" y1="204.4" x2="451" y2="204.4" stroke="#ff00ff" stroke-width="0.9" stroke-dasharray="2.2,1.8" opacity="0.75"/>
<polygon points="438,207.27 440.75,202.27 435.25,202.27" fill="#ff00ff"/>
<text x="454.7" y="208.1" font-size="11.6">Pd<tspan font-size="7.9" dy="3.6">1.2</tspan><tspan dy="-3.6">Cu</tspan><tspan font-size="7.9" dy="3.6">2</tspan></text>
<line x1="424.8" y1="222.8" x2="451" y2="222.8" stroke="#008000" stroke-width="0.9" stroke-dasharray="2.2,1.8" opacity="0.75"/>
<polygon points="438,219.8 441,222.8 438,225.8 435,222.8" fill="#008000"/>
<text x="454.7" y="226.5" font-size="11.6">Pd<tspan font-size="7.9" dy="3.6">1.2</tspan><tspan dy="-3.6">Cu</tspan><tspan font-size="7.9" dy="3.6">4</tspan></text>
<line x1="424.8" y1="241.2" x2="451" y2="241.2" stroke="#000080" stroke-width="0.9" stroke-dasharray="2.2,1.8" opacity="0.75"/>
<polygon points="435.12,241.2 440.12,238.45 440.12,243.95" fill="#000080"/>
<text x="454.7" y="244.9" font-size="11.6">Pd<tspan font-size="7.9" dy="3.6">1.2</tspan><tspan dy="-3.6">Cu</tspan><tspan font-size="7.9" dy="3.6">8</tspan></text>
<line x1="424.8" y1="259.6" x2="451" y2="259.6" stroke="#8000ff" stroke-width="0.9" stroke-dasharray="2.2,1.8" opacity="0.75"/>
<polygon points="440.88,259.6 435.88,256.85 435.88,262.35" fill="#8000ff"/>
<text x="454.7" y="263.3" font-size="11.6">Pd<tspan font-size="7.9" dy="3.6">0.6</tspan><tspan dy="-3.6">Cu</tspan></text>
<line x1="424.8" y1="278" x2="451" y2="278" stroke="#800080" stroke-width="0.9" stroke-dasharray="2.2,1.8" opacity="0.75"/>
<circle cx="438" cy="278" r="2.7" fill="#800080"/>
<text x="454.7" y="281.7" font-size="11.6">Pd<tspan font-size="7.9" dy="3.6">1.8</tspan><tspan dy="-3.6">Cu</tspan></text>
</g>
<g font-family='"Liberation Sans", Arial, sans-serif' fill="#000">
<path d="M102.7,441 V701 H425.6" fill="none" stroke="#333" stroke-width="1.3"/>
<line x1="97.1" y1="680.7" x2="102.7" y2="680.7" stroke="#333" stroke-width="1.1"/>
<text x="94.2" y="684.6" font-size="11" text-anchor="end">0.00</text>
<line x1="99.9" y1="660.73" x2="102.7" y2="660.73" stroke="#333" stroke-width="1.1"/>
<line x1="97.1" y1="640.75" x2="102.7" y2="640.75" stroke="#333" stroke-width="1.1"/>
<text x="94.2" y="644.65" font-size="11" text-anchor="end">0.01</text>
<line x1="99.9" y1="620.78" x2="102.7" y2="620.78" stroke="#333" stroke-width="1.1"/>
<line x1="97.1" y1="600.8" x2="102.7" y2="600.8" stroke="#333" stroke-width="1.1"/>
<text x="94.2" y="604.7" font-size="11" text-anchor="end">0.02</text>
<line x1="99.9" y1="580.83" x2="102.7" y2="580.83" stroke="#333" stroke-width="1.1"/>
<line x1="97.1" y1="560.85" x2="102.7" y2="560.85" stroke="#333" stroke-width="1.1"/>
<text x="94.2" y="564.75" font-size="11" text-anchor="end">0.03</text>
<line x1="99.9" y1="540.88" x2="102.7" y2="540.88" stroke="#333" stroke-width="1.1"/>
<line x1="97.1" y1="520.9" x2="102.7" y2="520.9" stroke="#333" stroke-width="1.1"/>
<text x="94.2" y="524.8" font-size="11" text-anchor="end">0.04</text>
<line x1="99.9" y1="500.93" x2="102.7" y2="500.93" stroke="#333" stroke-width="1.1"/>
<line x1="97.1" y1="480.95" x2="102.7" y2="480.95" stroke="#333" stroke-width="1.1"/>
<text x="94.2" y="484.85" font-size="11" text-anchor="end">0.05</text>
<line x1="99.9" y1="460.98" x2="102.7" y2="460.98" stroke="#333" stroke-width="1.1"/>
<line x1="97.1" y1="441" x2="102.7" y2="441" stroke="#333" stroke-width="1.1"/>
<text x="94.2" y="444.9" font-size="11" text-anchor="end">0.06</text>
<text transform="translate(67.4,570.8) rotate(-90)" font-size="13.5" text-anchor="middle">rate constant</text>
<polyline points="122.6,500.13 162.95,460.58 203.3,622.97 243.65,582.02 284,628.96" fill="none" stroke="#222" stroke-width="0.8"/>
<polyline points="324.35,633.16 364.7,460.58 405.05,504.92" fill="none" stroke="#222" stroke-width="0.8"/>
<rect x="119.8" y="497.33" width="5.6" height="5.6" fill="#000"/>
<rect x="160.15" y="457.78" width="5.6" height="5.6" fill="#000"/>
<rect x="200.5" y="620.17" width="5.6" height="5.6" fill="#000"/>
<rect x="240.85" y="579.22" width="5.6" height="5.6" fill="#000"/>
<rect x="281.2" y="626.16" width="5.6" height="5.6" fill="#000"/>
<rect x="321.55" y="630.36" width="5.6" height="5.6" fill="#000"/>
<rect x="361.9" y="457.78" width="5.6" height="5.6" fill="#000"/>
<rect x="402.25" y="502.12" width="5.6" height="5.6" fill="#000"/>
<polyline points="122.6,563.65 162.95,574.83 203.3,637.95 243.65,626.89 284,650.74" fill="none" stroke="#ff2020" stroke-width="0.8"/>
<polyline points="324.35,671.11 364.7,574.83 405.05,534.88" fill="none" stroke="#ff2020" stroke-width="0.8"/>
<circle cx="122.6" cy="563.65" r="2.92" fill="#ff0000"/>
<circle cx="162.95" cy="574.83" r="2.92" fill="#ff0000"/>
<circle cx="203.3" cy="637.95" r="2.92" fill="#ff0000"/>
<circle cx="243.65" cy="626.89" r="2.92" fill="#ff0000"/>
<circle cx="284" cy="650.74" r="2.92" fill="#ff0000"/>
<circle cx="324.35" cy="671.11" r="2.92" fill="#ff0000"/>
<circle cx="364.7" cy="574.83" r="2.92" fill="#ff0000"/>
<circle cx="405.05" cy="534.88" r="2.92" fill="#ff0000"/>
<polyline points="122.6,655.73 162.95,643.55 203.3,670.31 243.65,658.73 284,670.31" fill="none" stroke="#2020ff" stroke-width="0.8"/>
<polyline points="324.35,678.3 364.7,643.55 405.05,637.55" fill="none" stroke="#2020ff" stroke-width="0.8"/>
<polygon points="122.6,652.17 126.01,658.37 119.19,658.37" fill="#0000ff"/>
<polygon points="162.95,639.98 166.36,646.18 159.54,646.18" fill="#0000ff"/>
<polygon points="203.3,666.75 206.71,672.95 199.89,672.95" fill="#0000ff"/>
<polygon points="243.65,655.16 247.06,661.36 240.24,661.36" fill="#0000ff"/>
<polygon points="284,666.75 287.41,672.95 280.59,672.95" fill="#0000ff"/>
<polygon points="324.35,674.74 327.76,680.94 320.94,680.94" fill="#0000ff"/>
<polygon points="364.7,639.98 368.11,646.18 361.29,646.18" fill="#0000ff"/>
<polygon points="405.05,633.99 408.46,640.19 401.64,640.19" fill="#0000ff"/>
<rect x="252" y="441.3" width="49.4" height="63.1" fill="#fff" stroke="#999" stroke-width="0.9"/>
<line x1="254.1" y1="450.9" x2="284.2" y2="450.9" stroke="#888" stroke-width="0.9"/>
<rect x="266.4" y="448.2" width="5.4" height="5.4" fill="#000"/>
<text x="288.4" y="455.5" font-size="13.4">k<tspan font-size="8.8" dy="3.6">1</tspan></text>
<line x1="254.1" y1="471.4" x2="284.2" y2="471.4" stroke="#ff8080" stroke-width="0.9"/>
<circle cx="269.1" cy="471.4" r="2.92" fill="#ff0000"/>
<text x="288.4" y="476" font-size="13.4">k<tspan font-size="8.8" dy="3.6">2</tspan></text>
<line x1="254.1" y1="491.4" x2="284.2" y2="491.4" stroke="#8080ff" stroke-width="0.9"/>
<polygon points="269.1,487.83 272.51,494.03 265.69,494.03" fill="#0000ff"/>
<text x="288.4" y="496" font-size="13.4">k<tspan font-size="8.8" dy="3.6">3</tspan></text>
<text x="158" y="450.4" font-size="8.4">Pd<tspan font-size="5.6" dy="2.4">1.2</tspan><tspan dy="-2.4">Cu</tspan></text>
<text x="109.7" y="513.3" font-size="8.4">Pd<tspan font-size="5.6" dy="2.4">1.2</tspan><tspan dy="-2.4">Cu</tspan><tspan font-size="5.6" dy="2.4">0.5</tspan></text>
<text x="196.4" y="595.2" font-size="8.4">Pd<tspan font-size="5.6" dy="2.4">1.2</tspan><tspan dy="-2.4">Cu</tspan><tspan font-size="5.6" dy="2.4">2</tspan></text>
<text x="237.4" y="573.3" font-size="8.4">Pd<tspan font-size="5.6" dy="2.4">1.2</tspan><tspan dy="-2.4">Cu</tspan><tspan font-size="5.6" dy="2.4">4</tspan></text>
<text x="279.7" y="614.3" font-size="8.4">Pd<tspan font-size="5.6" dy="2.4">1.2</tspan><tspan dy="-2.4">Cu</tspan><tspan font-size="5.6" dy="2.4">8</tspan></text>
<text x="301.5" y="647.8" font-size="8.4">Pd<tspan font-size="5.6" dy="2.4">0.6</tspan><tspan dy="-2.4">Cu</tspan></text>
<text x="346.5" y="451.7" font-size="8.4">Pd<tspan font-size="5.6" dy="2.4">1.2</tspan><tspan dy="-2.4">Cu</tspan></text>
<text x="405.8" y="496" font-size="8.4">Pd<tspan font-size="5.6" dy="2.4">1.8</tspan><tspan dy="-2.4">Cu</tspan></text>
</g>
<g font-family='"Liberation Sans", Arial, sans-serif' fill="#000">
<polyline points="488.2,487.93 489.5,487.61 490.8,487.75 492.1,487.94 493.4,488.71 494.7,488.48 496,488.27 497.3,488.13 498.6,488.79 499.9,488.43 501.2,489.06 502.5,488.73 503.8,489.06 505.1,488.99 506.4,488.34 507.7,488.26 509,488.86 510.3,488.23 511.6,488.15 512.9,488.13 514.2,488.13 515.5,487.68 516.8,487.82 518.1,487.87 519.4,487.8 520.7,487.78 522,487.28 523.3,487.34 524.6,487.35 525.9,487.91 527.2,487.93 528.5,487.81 529.8,487.47 531.1,487.23 532.4,487.18 533.7,487.01 535,487.2 536.3,487.14 537.6,487.24 538.9,487.58 540.2,487.77 541.5,487.93 542.8,487.52 544.1,487.71 545.4,487.89 546.7,487.49 548,487.74 549.3,488.03 550.6,488.09 551.9,487.86 553.2,487.51 554.5,486.76 555.8,486.35 557.1,486.61 558.4,486.62 559.7,485.59 561,485.27 562.3,484.53 563.6,483.79 564.9,483.34 566.2,482.25 567.5,481.72 568.8,481.06 570.1,479.38 571.4,477.22 572.7,475.74 574,473.69 575.3,471.31 576.6,468.23 577.9,464.28 579.2,462.08 580.5,458.75 581.8,456.12 583.1,453.1 584.4,450.8 585.7,449.32 587,447.63 588.3,445.93 589.6,444.48 590.9,444.11 592.2,443.23 593.5,443.17 594.8,443.66 596.1,444.56 597.4,445.87 598.7,447.53 600,449.92 601.3,451.76 602.6,453.68 603.9,455.49 605.2,458.01 606.5,460.07 607.8,461.54 609.1,463.65 610.4,465.41 611.7,466.99 613,467.73 614.3,469.46 615.6,470.56 616.9,470.74 618.2,470.45 619.5,470.14 620.8,470.22 622.1,470.42 623.4,470.26 624.7,469.11 626,468.47 627.3,468.34 628.6,468.63 629.9,468.33 631.2,467.7 632.5,467.08 633.8,467.09 635.1,466.71 636.4,466.62 637.7,465.82 639,464.92 640.3,464.6 641.6,463.68 642.9,463.26 644.2,463.05 645.5,462.65 646.8,462.84 648.1,463.36 649.4,464.53 650.7,465.54 652,466.26 653.3,466.38 654.6,466.44 655.9,467.56 657.2,468.13 658.5,468.95 659.8,470.35 661.1,470.81 662.4,471.86 663.7,472.6 665,472.94 666.3,474.18 667.6,474.88 668.9,476.05 670.2,476.32 671.5,477.22 672.8,477.72 674.1,477.92 675.4,478.23 676.7,478.55 678,479.18 679.3,479.78 680.6,479.96 681.9,479.98 683.2,480.52 684.5,480.24 685.8,480.02 687.1,480.24 688.4,479.64 689.7,479.44 691,479.13 692.3,478.84 693.6,478.84 694.9,478.06 696.2,477.07 697.5,475.84 698.8,474.51 700.1,472.31 701.4,470.57 702.7,468.41 704,467.08 705.3,465.17 706.6,463.33 707.9,461.75 709.2,460.65 710.5,458.83 711.8,458.15 713.1,456.75 714.4,455.59 715.7,454.37 717,453.57 718.3,452.38 719.6,452.47 720.9,452.16 722.2,452.41 723.5,452.41 724.8,453.33 726.1,454.38 727.4,455.26 728.7,455.64 730,456.97 731.3,457.65 732.6,458.47 733.9,459.16 735.2,460.93 736.5,462.73 737.8,464.39 739.1,465.31 740.4,465.91 741.7,466.99 743,467.56 744.3,468.41 745.6,469.12 746.9,469.74 748.2,469.65 749.5,468.93 750.8,468.05 752.1,467.53 753.4,467.37 754.7,467.06 756,466.15 757.3,466.35 758.6,465.81 759.9,466 761.2,465.69 762.5,465.58 763.8,465.5 765.1,465.83 766.4,465.8 767.7,466.69 769,466.54 770.3,466.87 771.6,466.58 772.9,466.92 774.2,467.4 775.5,467.89 776.8,467.61 778.1,467.62 779.4,468.35 780.7,469.07 782,468.79 783.3,469.42 784.6,470.17 785.9,470.49 787.2,470.31 788.5,470.51 789.8,471.47 791.1,471.23 792.4,471.4 793.7,471.96 795,472.09 796.3,472.81 797.6,473.08 798.9,473.93 800.2,474.47 801.5,474.55 802.8,475.06 804.1,474.66 805.4,475.21 806.7,475.39 808,475.24 809.3,474.93 810.6,474.77 811.9,475.45 813.2,475.56 814.5,476 815.8,476.17 817.1,475.74 818.4,475.85 819.7,476.12 821,476.02 822.3,476.82 823.6,477.14 824.9,477.18 826.2,477.82 827.5,478.24" fill="none" stroke="#4848a8" stroke-width="1.0" stroke-linejoin="round"/>
<polyline points="488.6,527.91 489.9,528.27 491.2,528.52 492.5,528.12 493.8,527.78 495.1,527.91 496.4,527.79 497.7,528.47 499,528.34 500.3,528.18 501.6,528.18 502.9,528.99 504.2,528.97 505.5,529.43 506.8,529.79 508.1,529.99 509.4,529.52 510.7,529.91 512,529.81 513.3,529.96 514.6,529.78 515.9,529.67 517.2,529.63 518.5,529.11 519.8,528.58 521.1,528.9 522.4,529.21 523.7,529.44 525,528.92 526.3,528.62 527.6,528.61 528.9,528.48 530.2,528.56 531.5,528.34 532.8,527.67 534.1,527.97 535.4,528.18 536.7,528.3 538,528.26 539.3,527.61 540.6,527.45 541.9,527.05 543.2,526.91 544.5,527.52 545.8,527.44 547.1,527.73 548.4,527.75 549.7,527.86 551,527.85 552.3,527.03 553.6,526.48 554.9,526.92 556.2,526.64 557.5,526.21 558.8,525.32 560.1,524.71 561.4,523.69 562.7,522.14 564,521.45 565.3,519.69 566.6,518.11 567.9,515.48 569.2,513.69 570.5,510.92 571.8,508.46 573.1,506.11 574.4,503.96 575.7,501.02 577,497.95 578.3,494.18 579.6,491.29 580.9,489.81 582.2,488.01 583.5,485.61 584.8,484.29 586.1,482.61 587.4,481.2 588.7,480 590,480 591.3,481.31 592.6,482.88 593.9,484.62 595.2,487.03 596.5,488.42 597.8,489.71 599.1,491.86 600.4,494.32 601.7,496.72 603,498.86 604.3,500.49 605.6,502.25 606.9,504.12 608.2,504.75 609.5,505.81 610.8,506.79 612.1,507.63 613.4,508.51 614.7,508.79 616,509.32 617.3,509.86 618.6,509.72 619.9,509.93 621.2,509.85 622.5,509.28 623.8,508.86 625.1,508.83 626.4,508.37 627.7,507.99 629,508.02 630.3,507.65 631.6,507.41 632.9,506.62 634.2,506.54 635.5,506.11 636.8,506.94 638.1,506.77 639.4,507.38 640.7,507.81 642,508.33 643.3,508.34 644.6,508.62 645.9,509.37 647.2,509.86 648.5,510.7 649.8,510.81 651.1,511.02 652.4,511.47 653.7,511.89 655,513.09 656.3,513.98 657.6,514.36 658.9,515.09 660.2,515.22 661.5,515.82 662.8,517.07 664.1,517.68 665.4,518.45 666.7,518.61 668,518.65 669.3,519.47 670.6,519.65 671.9,519.81 673.2,520.08 674.5,520.64 675.8,520.78 677.1,521.11 678.4,520.71 679.7,520.41 681,520.88 682.3,521.25 683.6,520.59 684.9,521.05 686.2,521.03 687.5,520.45 688.8,520.69 690.1,520.07 691.4,520.13 692.7,519.53 694,518.74 695.3,516.48 696.6,514.22 697.9,511.72 699.2,510.06 700.5,507.6 701.8,505.73 703.1,503.78 704.4,502.4 705.7,501 707,499.23 708.3,497.41 709.6,496.42 710.9,495.15 712.2,493.87 713.5,492.75 714.8,491.39 716.1,490.31 717.4,490.31 718.7,490.75 720,491 721.3,491.64 722.6,491.8 723.9,493.34 725.2,494.53 726.5,495.98 727.8,497.6 729.1,499.36 730.4,501.03 731.7,502.58 733,504.06 734.3,505.49 735.6,506.42 736.9,506.89 738.2,507.66 739.5,508.16 740.8,508.35 742.1,508.35 743.4,508.03 744.7,507.4 746,507.23 747.3,507.09 748.6,507.48 749.9,507.92 751.2,507.91 752.5,508.01 753.8,509.06 755.1,509.49 756.4,510.23 757.7,510.09 759,508.67 760.3,507.48 761.6,507.96 762.9,507.82 764.2,507.78 765.5,507.83 766.8,508.37 768.1,508.67 769.4,509.14 770.7,509.28 772,509.54 773.3,509.84 774.6,510.96 775.9,511.06 777.2,511.82 778.5,512.34 779.8,512.03 781.1,512.52 782.4,512.54 783.7,513.07 785,513.19 786.3,513.92 787.6,513.88 788.9,514.22 790.2,514.44 791.5,514.94 792.8,515.04 794.1,515.51 795.4,516.23 796.7,515.94 798,516.42 799.3,516.37 800.6,515.64 801.9,515.61 803.2,515.12 804.5,515.58 805.8,515.03 807.1,515.59 808.4,516.07 809.7,515.8 811,516.31 812.3,516.87 813.6,517.19 814.9,518.04 816.2,517.72 817.5,518.13 818.8,518.54 820.1,518.13 821.4,518.39 822.7,518.46 824,518.17 825.3,517.95 826.6,517.95 827.9,517.84" fill="none" stroke="#3c9a3c" stroke-width="1.0" stroke-linejoin="round"/>
<polyline points="488.7,567.73 490,567.83 491.3,567.64 492.6,568.15 493.9,567.82 495.2,567.78 496.5,568.6 497.8,568.8 499.1,569.03 500.4,569.04 501.7,569.06 503,568.52 504.3,569.02 505.6,568.91 506.9,568.29 508.2,568.21 509.5,568.35 510.8,568.48 512.1,568.45 513.4,567.64 514.7,567.16 516,566.95 517.3,567.37 518.6,567.04 519.9,567.4 521.2,567.47 522.5,567.22 523.8,566.87 525.1,567.24 526.4,567.59 527.7,567.15 529,567.12 530.3,567.24 531.6,567.38 532.9,568.04 534.2,568.24 535.5,567.65 536.8,568.04 538.1,568.1 539.4,567.72 540.7,567.65 542,568.21 543.3,567.85 544.6,567.43 545.9,568.04 547.2,568.06 548.5,567.55 549.8,567.14 551.1,567.23 552.4,566.9 553.7,566.95 555,566.22 556.3,566.1 557.6,566.04 558.9,565.17 560.2,563.32 561.5,561.35 562.8,559.81 564.1,559.04 565.4,557.57 566.7,555.37 568,552.89 569.3,550.48 570.6,547.07 571.9,544.07 573.2,541.42 574.5,539.34 575.8,536.93 577.1,533.82 578.4,531.51 579.7,529.81 581,528.47 582.3,527.35 583.6,526.48 584.9,524.92 586.2,524.23 587.5,523.67 588.8,523.68 590.1,524.54 591.4,525.11 592.7,526.64 594,528.41 595.3,529.47 596.6,531.68 597.9,534.02 599.2,536.21 600.5,538.38 601.8,540.85 603.1,543.03 604.4,545.41 605.7,546.68 607,547.36 608.3,547.53 609.6,548.38 610.9,548.17 612.2,547.96 613.5,548.59 614.8,548.08 616.1,547.94 617.4,547.79 618.7,547.16 620,546.8 621.3,545.79 622.6,545.15 623.9,543.93 625.2,543.17 626.5,543.74 627.8,544.12 629.1,544.3 630.4,544.23 631.7,544.76 633,545.09 634.3,545.93 635.6,546.02 636.9,546.99 638.2,547.8 639.5,548.12 640.8,548.13 642.1,549.4 643.4,549.48 644.7,550.47 646,550.99 647.3,552.05 648.6,553.19 649.9,554.14 651.2,554.61 652.5,555.37 653.8,555.25 655.1,555.96 656.4,557.14 657.7,557.97 659,558.1 660.3,558.8 661.6,559.25 662.9,558.55 664.2,558.6 665.5,557.56 666.8,557.55 668.1,557.88 669.4,557.63 670.7,557.88 672,557.66 673.3,558.27 674.6,558.14 675.9,558.55 677.2,559.19 678.5,558.87 679.8,559.07 681.1,558.98 682.4,559.13 683.7,559.61 685,559.03 686.3,558.49 687.6,558.28 688.9,557.17 690.2,555.85 691.5,555.44 692.8,554.33 694.1,553.06 695.4,551.43 696.7,550.22 698,548.12 699.3,546.75 700.6,544.65 701.9,543.63 703.2,542.44 704.5,541.04 705.8,539.85 707.1,538.52 708.4,536.76 709.7,535.95 711,535.13 712.3,534.04 713.6,532.57 714.9,532.01 716.2,531.35 717.5,532.19 718.8,532.67 720.1,534.01 721.4,535.59 722.7,536.31 724,537.82 725.3,539.18 726.6,540.76 727.9,541.25 729.2,542.22 730.5,543.78 731.8,546.13 733.1,547.28 734.4,547.87 735.7,548.41 737,549.07 738.3,549.31 739.6,549.28 740.9,549.77 742.2,549.97 743.5,549.2 744.8,548.76 746.1,548.86 747.4,547.75 748.7,547 750,547.28 751.3,546.78 752.6,546.45 753.9,546.42 755.2,546.63 756.5,547.06 757.8,547.26 759.1,547.04 760.4,547.07 761.7,547.63 763,547.51 764.3,547.57 765.6,547.72 766.9,548.08 768.2,548.84 769.5,549.67 770.8,550.16 772.1,551.38 773.4,551.51 774.7,551.64 776,552.31 777.3,552.36 778.6,552.39 779.9,553.1 781.2,553.46 782.5,553.65 783.8,553.27 785.1,553.29 786.4,553.1 787.7,553.57 789,554.16 790.3,554.45 791.6,554.39 792.9,554.64 794.2,554.7 795.5,554.98 796.8,555.39 798.1,555.76 799.4,555.97 800.7,556.55 802,557.44 803.3,557.59 804.6,557.52 805.9,557.46 807.2,558.01 808.5,557.68 809.8,557.81 811.1,558.25 812.4,558.35 813.7,558.82 815,558.25 816.3,558.51 817.6,558.54 818.9,558.78 820.2,558.33 821.5,558.52 822.8,558.51 824.1,558.27 825.4,558.62 826.7,558.55 828,558.43" fill="none" stroke="#ff40ff" stroke-width="1.0" stroke-linejoin="round"/>
<polyline points="488.7,610.62 490,610.51 491.3,610.53 492.6,609.78 493.9,609.98 495.2,610.11 496.5,609.86 497.8,609.69 499.1,609.33 500.4,609.27 501.7,609.41 503,609.76 504.3,609.66 505.6,609.51 506.9,609.34 508.2,609.75 509.5,609.56 510.8,609.25 512.1,609.65 513.4,609.86 514.7,610.32 516,610.2 517.3,610.41 518.6,610.23 519.9,610.27 521.2,609.87 522.5,610.04 523.8,609.83 525.1,609.87 526.4,609.7 527.7,609.99 529,609.73 530.3,609.56 531.6,609.42 532.9,609.5 534.2,609.23 535.5,609.41 536.8,609.39 538.1,608.99 539.4,609 540.7,609.06 542,608.55 543.3,608.78 544.6,608.87 545.9,609.07 547.2,609.28 548.5,609.94 549.8,610.01 551.1,609.46 552.4,608.65 553.7,608.47 555,607.47 556.3,606.04 557.6,604.97 558.9,603.74 560.2,603.05 561.5,600.77 562.8,598.67 564.1,596.07 565.4,594.72 566.7,593.02 568,590.66 569.3,588.95 570.6,587.26 571.9,585.05 573.2,583.19 574.5,581.72 575.8,579.06 577.1,576.59 578.4,574.74 579.7,573.08 581,571.29 582.3,570.07 583.6,570.42 584.9,571.28 586.2,572.29 587.5,572.9 588.8,573.92 590.1,575.21 591.4,576.45 592.7,579.16 594,581.2 595.3,582.91 596.6,583.92 597.9,584.78 599.2,586.22 600.5,586.84 601.8,587.17 603.1,588.32 604.4,589.27 605.7,589.5 607,590.11 608.3,590.61 609.6,591.44 610.9,591.86 612.2,591.4 613.5,591.33 614.8,590.26 616.1,589.55 617.4,589.03 618.7,588.55 620,588.01 621.3,587.32 622.6,586.22 623.9,585.26 625.2,584.97 626.5,584.7 627.8,584.48 629.1,583.83 630.4,584.2 631.7,583.52 633,583.15 634.3,583.27 635.6,583.49 636.9,583.17 638.2,583.85 639.5,583.97 640.8,584.44 642.1,584.65 643.4,585.15 644.7,585.81 646,586.62 647.3,587.54 648.6,588.66 649.9,589.66 651.2,590.28 652.5,590.52 653.8,591.13 655.1,592.19 656.4,592.85 657.7,593.66 659,594.71 660.3,595.65 661.6,595.66 662.9,596.19 664.2,596.99 665.5,597.36 666.8,598.46 668.1,599.34 669.4,599.7 670.7,600.19 672,600.17 673.3,600.37 674.6,600.55 675.9,601.23 677.2,601.65 678.5,601.64 679.8,602.22 681.1,602.07 682.4,602.05 683.7,601.78 685,600.17 686.3,598.98 687.6,597.8 688.9,596.29 690.2,594.34 691.5,592.72 692.8,591 694.1,589.7 695.4,588.64 696.7,587.27 698,586.48 699.3,584.8 700.6,583.84 701.9,582.86 703.2,581.94 704.5,580.89 705.8,579.65 707.1,578.72 708.4,578.28 709.7,577.66 711,577.12 712.3,576.75 713.6,576.9 714.9,577.51 716.2,578.59 717.5,579.32 718.8,580.18 720.1,581.45 721.4,582.15 722.7,583.23 724,584.79 725.3,585.08 726.6,585.74 727.9,586.21 729.2,586.73 730.5,587.1 731.8,587.51 733.1,587.96 734.4,588.74 735.7,589.25 737,589.63 738.3,589.63 739.6,589.7 740.9,589.85 742.2,589.77 743.5,589.68 744.8,588.99 746.1,589.31 747.4,589.05 748.7,589.15 750,589.02 751.3,588.25 752.6,588.48 753.9,587.79 755.2,588.1 756.5,588.18 757.8,587.35 759.1,587.44 760.4,586.96 761.7,587.32 763,587.43 764.3,587.84 765.6,587.59 766.9,587.87 768.2,588.47 769.5,588.7 770.8,589.61 772.1,590.3 773.4,590.89 774.7,591.21 776,591.6 777.3,592.5 778.6,592.68 779.9,592.94 781.2,593.17 782.5,593.99 783.8,594.41 785.1,594.23 786.4,594.33 787.7,594.42 789,594.6 790.3,595.67 791.6,595.46 792.9,595.86 794.2,596.23 795.5,596.34 796.8,596.46 798.1,596.58 799.4,596.73 800.7,597.02 802,597.63 803.3,598.08 804.6,597.92 805.9,597.95 807.2,597.86 808.5,597.9 809.8,598.14 811.1,598.53 812.4,598.16 813.7,598.06 815,598.12 816.3,598.79 817.6,599.22 818.9,599.01 820.2,599.29 821.5,598.76 822.8,599.17 824.1,598.81 825.4,598.57 826.7,598.61 828,599.18" fill="none" stroke="#3c3cff" stroke-width="1.0" stroke-linejoin="round"/>
<polyline points="488.7,648.42 490,648.39 491.3,648.06 492.6,647.6 493.9,647.9 495.2,648.36 496.5,647.89 497.8,648.11 499.1,647.19 500.4,647.28 501.7,646.89 503,647.01 504.3,647.17 505.6,647.5 506.9,647.21 508.2,647.42 509.5,646.81 510.8,646.21 512.1,646.26 513.4,646.52 514.7,646.58 516,645.75 517.3,645.53 518.6,645.38 519.9,645.52 521.2,646.02 522.5,645.53 523.8,644.96 525.1,645.64 526.4,645.88 527.7,645.82 529,644.85 530.3,644.58 531.6,644.28 532.9,644.97 534.2,644.33 535.5,643.98 536.8,643.89 538.1,644.53 539.4,644.14 540.7,644.93 542,644.83 543.3,645.56 544.6,645.64 545.9,645.88 547.2,646.49 548.5,646.7 549.8,645.61 551.1,644.85 552.4,643.71 553.7,642.87 555,642.2 556.3,641.31 557.6,639.89 558.9,637.81 560.2,635.45 561.5,633.75 562.8,631.79 564.1,629.39 565.4,627.24 566.7,624.07 568,620.42 569.3,618.76 570.6,617.38 571.9,615.22 573.2,614.14 574.5,611.96 575.8,611.4 577.1,609.53 578.4,608.74 579.7,607.65 581,607.31 582.3,606.35 583.6,606.3 584.9,606.79 586.2,606.39 587.5,606.82 588.8,608.23 590.1,609.24 591.4,610.47 592.7,611.81 594,613.55 595.3,615.97 596.6,618.45 597.9,621.25 599.2,623.05 600.5,624.65 601.8,625.97 603.1,625.61 604.4,624.65 605.7,623.73 607,623.79 608.3,623.95 609.6,623.1 610.9,621.71 612.2,620.85 613.5,620.64 614.8,620.32 616.1,619.14 617.4,618.62 618.7,617.6 620,617.33 621.3,617.06 622.6,616.21 623.9,615.73 625.2,614.45 626.5,613.98 627.8,613.21 629.1,612.75 630.4,611.73 631.7,611.61 633,611.8 634.3,611.72 635.6,612.47 636.9,612.69 638.2,613.79 639.5,615.48 640.8,616.45 642.1,617.19 643.4,618.71 644.7,620.16 646,621.59 647.3,623.01 648.6,625.08 649.9,626.32 651.2,627.16 652.5,627.77 653.8,628.21 655.1,628.84 656.4,630.01 657.7,630.84 659,631.85 660.3,632.24 661.6,632.63 662.9,633.43 664.2,633.91 665.5,635.41 666.8,636.14 668.1,636.37 669.4,636.87 670.7,637.55 672,638.07 673.3,638.11 674.6,638.38 675.9,638.42 677.2,637.85 678.5,637.5 679.8,637.17 681.1,636.21 682.4,635.98 683.7,635.19 685,634.26 686.3,632.34 687.6,631.18 688.9,629.31 690.2,627.2 691.5,624.8 692.8,623.6 694.1,621.99 695.4,620.58 696.7,618.95 698,617.6 699.3,616.35 700.6,616.02 701.9,614.74 703.2,613.91 704.5,613.03 705.8,612.35 707.1,611.09 708.4,610.15 709.7,610.53 711,609.88 712.3,610.84 713.6,610.93 714.9,610.9 716.2,611.6 717.5,613.05 718.8,614.2 720.1,615.36 721.4,616.73 722.7,618.13 724,619.99 725.3,620.92 726.6,621.8 727.9,621.72 729.2,621.98 730.5,622.5 731.8,622.54 733.1,623.02 734.4,622.74 735.7,623.17 737,623.25 738.3,622.95 739.6,623.02 740.9,622.35 742.2,622.4 743.5,621.89 744.8,620.82 746.1,620.75 747.4,620.34 748.7,620.37 750,620.09 751.3,620.06 752.6,619.5 753.9,618.88 755.2,618.96 756.5,619.19 757.8,618.82 759.1,618.91 760.4,618.91 761.7,618.99 763,619.77 764.3,621.47 765.6,622.19 766.9,622.86 768.2,623.76 769.5,623.95 770.8,624.32 772.1,625.34 773.4,625.59 774.7,625.84 776,625.7 777.3,626.43 778.6,626.46 779.9,626.98 781.2,627.58 782.5,627.73 783.8,627.03 785.1,627.47 786.4,627.31 787.7,626.58 789,626.03 790.3,625.99 791.6,626.42 792.9,626.62 794.2,626.31 795.5,627.61 796.8,627.6 798.1,628.96 799.4,629.69 800.7,630.87 802,631.89 803.3,632.61 804.6,632.85 805.9,633.28 807.2,633.14 808.5,633.17 809.8,632.94 811.1,633.26 812.4,634.07 813.7,634.25 815,633.53 816.3,633.49 817.6,633.55 818.9,633.65 820.2,633.65 821.5,634.01 822.8,633.39 824.1,633.59 825.4,633.67 826.7,632.95 828,632.75" fill="none" stroke="#ff4040" stroke-width="1.0" stroke-linejoin="round"/>
<polyline points="488.7,680.07 490,681.73 491.3,682.07 492.6,680.24 493.9,679.52 495.2,679.28 496.5,679.19 497.8,678.56 499.1,681.23 500.4,680.57 501.7,680.33 503,680.63 504.3,679.39 505.6,680.46 506.9,679.64 508.2,681.61 509.5,682.16 510.8,683.52 512.1,683.12 513.4,682.34 514.7,680.57 516,679.27 517.3,681.53 518.6,681.04 519.9,681.68 521.2,678.84 522.5,678.18 523.8,679.17 525.1,676.87 526.4,678.63 527.7,677.89 529,677.69 530.3,677.5 531.6,677.79 532.9,678.54 534.2,679.02 535.5,679.87 536.8,680.05 538.1,678.24 539.4,678.51 540.7,678.94 542,677.96 543.3,678.15 544.6,680.09 545.9,681.29 547.2,679.64 548.5,677.49 549.8,675.83 551.1,674.32 552.4,674.69 553.7,673.12 555,673.03 556.3,670.54 557.6,669 558.9,668.35 560.2,667.03 561.5,665.15 562.8,663.69 564.1,660.96 565.4,658.38 566.7,656.7 568,653.04 569.3,652.25 570.6,648.71 571.9,646.86 573.2,646.54 574.5,645.84 575.8,647.67 577.1,647.22 578.4,644.61 579.7,640.65 581,638.61 582.3,638.33 583.6,640.34 584.9,641.66 586.2,641.43 587.5,643.62 588.8,645.05 590.1,646.99 591.4,649.05 592.7,651.27 594,653.26 595.3,656.34 596.6,657.7 597.9,657.32 599.2,660.88 600.5,660.58 601.8,662.16 603.1,664.53 604.4,664.46 605.7,665.65 607,666.28 608.3,666.26 609.6,665.95 610.9,666.72 612.2,666.14 613.5,665.46 614.8,665.43 616.1,666.64 617.4,667.91 618.7,668.43 620,670.15 621.3,671.94 622.6,672.83 623.9,670.73 625.2,670.79 626.5,670.77 627.8,671.32 629.1,668.35 630.4,668.11 631.7,669.33 633,667.54 634.3,665.98 635.6,667.02 636.9,665.23 638.2,664.86 639.5,664.35 640.8,666.09 642.1,667.34 643.4,665.43 644.7,667.84 646,668.59 647.3,669.84 648.6,670.82 649.9,670.13 651.2,668.61 652.5,669.68 653.8,670.2 655.1,671.69 656.4,670.38 657.7,671.01 659,670.3 660.3,671.95 661.6,671.51 662.9,672.13 664.2,673.35 665.5,672.9 666.8,672.98 668.1,672.69 669.4,670.99 670.7,672.71 672,673.06 673.3,671.64 674.6,672.16 675.9,671.53 677.2,669.18 678.5,669.45 679.8,666.37 681.1,665.3 682.4,664.07 683.7,663.56 685,664.96 686.3,664.98 687.6,663.05 688.9,664.74 690.2,663.58 691.5,661.8 692.8,661.89 694.1,660.98 695.4,658.17 696.7,657.25 698,655.75 699.3,654.01 700.6,653.92 701.9,652.03 703.2,649.84 704.5,650.76 705.8,649.56 707.1,649.13 708.4,646.68 709.7,647.21 711,646.02 712.3,645.18 713.6,647.79 714.9,647.97 716.2,650.52 717.5,652.49 718.8,651.58 720.1,654.44 721.4,654.3 722.7,656.77 724,657.17 725.3,658.3 726.6,658.44 727.9,660.41 729.2,661.74 730.5,664.34 731.8,666.24 733.1,666.86 734.4,666.56 735.7,668.59 737,669.66 738.3,670.27 739.6,667.51 740.9,666.19 742.2,666.33 743.5,666.61 744.8,665.23 746.1,664.44 747.4,666.16 748.7,664.76 750,664.22 751.3,666.75 752.6,668.53 753.9,669.89 755.2,668.22 756.5,668.45 757.8,667.41 759.1,665.64 760.4,664.27 761.7,664.32 763,663.97 764.3,665.09 765.6,667.89 766.9,670.75 768.2,672.15 769.5,672.16 770.8,671.52 772.1,671.94 773.4,669.87 774.7,669.38 776,670.23 777.3,669.25 778.6,668.75 779.9,669.51 781.2,668.72 782.5,670.23 783.8,671.18 785.1,671.28 786.4,668.9 787.7,667.7 789,667.26 790.3,668.22 791.6,668.71 792.9,668.26 794.2,666.93 795.5,667.58 796.8,667.85 798.1,668.94 799.4,669.62 800.7,671.27 802,673.02 803.3,673.68 804.6,673.7 805.9,672.47 807.2,670.65 808.5,672.61 809.8,671.65 811.1,672.28 812.4,672.48 813.7,671.41 815,671.13 816.3,670.06 817.6,671.76 818.9,672.93 820.2,671.69 821.5,672.15 822.8,671.89 824.1,671.98 825.4,671.46 826.7,672.78 828,671.45" fill="none" stroke="#303030" stroke-width="1.0" stroke-linejoin="round"/>
<rect x="488.2" y="436.4" width="340.3" height="249.9" fill="none" stroke="#333" stroke-width="1.2"/>
<line x1="581.6" y1="436.4" x2="581.6" y2="686.3" stroke="#444" stroke-width="1.3"/>
<line x1="488.2" y1="686.3" x2="488.2" y2="690.8" stroke="#333" stroke-width="1.1"/>
<text x="488.2" y="702.2" font-size="10" text-anchor="middle">332</text>
<line x1="512.51" y1="686.3" x2="512.51" y2="688.9" stroke="#333" stroke-width="1.1"/>
<line x1="536.82" y1="686.3" x2="536.82" y2="690.8" stroke="#333" stroke-width="1.1"/>
<text x="536.82" y="702.2" font-size="10" text-anchor="middle">334</text>
<line x1="561.13" y1="686.3" x2="561.13" y2="688.9" stroke="#333" stroke-width="1.1"/>
<line x1="585.44" y1="686.3" x2="585.44" y2="690.8" stroke="#333" stroke-width="1.1"/>
<text x="585.44" y="702.2" font-size="10" text-anchor="middle">336</text>
<line x1="609.75" y1="686.3" x2="609.75" y2="688.9" stroke="#333" stroke-width="1.1"/>
<line x1="634.06" y1="686.3" x2="634.06" y2="690.8" stroke="#333" stroke-width="1.1"/>
<text x="634.06" y="702.2" font-size="10" text-anchor="middle">338</text>
<line x1="658.37" y1="686.3" x2="658.37" y2="688.9" stroke="#333" stroke-width="1.1"/>
<line x1="682.68" y1="686.3" x2="682.68" y2="690.8" stroke="#333" stroke-width="1.1"/>
<text x="682.68" y="702.2" font-size="10" text-anchor="middle">340</text>
<line x1="706.99" y1="686.3" x2="706.99" y2="688.9" stroke="#333" stroke-width="1.1"/>
<line x1="731.3" y1="686.3" x2="731.3" y2="690.8" stroke="#333" stroke-width="1.1"/>
<text x="731.3" y="702.2" font-size="10" text-anchor="middle">342</text>
<line x1="755.61" y1="686.3" x2="755.61" y2="688.9" stroke="#333" stroke-width="1.1"/>
<line x1="779.92" y1="686.3" x2="779.92" y2="690.8" stroke="#333" stroke-width="1.1"/>
<text x="779.92" y="702.2" font-size="10" text-anchor="middle">344</text>
<line x1="804.23" y1="686.3" x2="804.23" y2="688.9" stroke="#333" stroke-width="1.1"/>
<line x1="828.54" y1="686.3" x2="828.54" y2="690.8" stroke="#333" stroke-width="1.1"/>
<text x="828.54" y="702.2" font-size="10" text-anchor="middle">346</text>
<text x="658.5" y="720.3" font-size="12.1" text-anchor="middle">Binding Energy (eV)</text>
<text transform="translate(478.2,561.1) rotate(-90)" font-size="12.1" text-anchor="middle">Intensity (a.u.)</text>
<text x="496" y="480.6" font-size="10">Pd<tspan font-size="6.6" dy="2.8">1.2</tspan><tspan dy="-2.8">Cu</tspan><tspan font-size="6.6" dy="2.8">8</tspan></text>
<text x="496" y="522.3" font-size="10">Pd<tspan font-size="6.6" dy="2.8">1.2</tspan><tspan dy="-2.8">Cu</tspan><tspan font-size="6.6" dy="2.8">4</tspan></text>
<text x="496" y="560.6" font-size="10">Pd<tspan font-size="6.6" dy="2.8">1.2</tspan><tspan dy="-2.8">Cu</tspan><tspan font-size="6.6" dy="2.8">2</tspan></text>
<text x="496" y="602.6" font-size="10">Pd<tspan font-size="6.6" dy="2.8">1.2</tspan><tspan dy="-2.8">Cu</tspan></text>
<text x="496" y="639.5" font-size="10">Pd<tspan font-size="6.6" dy="2.8">1.2</tspan><tspan dy="-2.8">Cu</tspan><tspan font-size="6.6" dy="2.8">0.5</tspan></text>
<text x="496" y="674" font-size="10">Pd</text>
</g>
<g font-family='"Liberation Sans", Arial, sans-serif' fill="#000">
<rect x="922.4" y="436.4" width="312.2" height="251.7" fill="none" stroke="#111" stroke-width="1.3"/>
<line x1="917.2" y1="683.5" x2="922.4" y2="683.5" stroke="#111" stroke-width="1.1"/>
<text x="913.6" y="687.2" font-size="10.3" text-anchor="end">0.00</text>
<line x1="917.2" y1="642.32" x2="922.4" y2="642.32" stroke="#111" stroke-width="1.1"/>
<text x="913.6" y="646.02" font-size="10.3" text-anchor="end">0.05</text>
<line x1="917.2" y1="601.14" x2="922.4" y2="601.14" stroke="#111" stroke-width="1.1"/>
<text x="913.6" y="604.84" font-size="10.3" text-anchor="end">0.10</text>
<line x1="917.2" y1="559.96" x2="922.4" y2="559.96" stroke="#111" stroke-width="1.1"/>
<text x="913.6" y="563.66" font-size="10.3" text-anchor="end">0.15</text>
<line x1="917.2" y1="518.78" x2="922.4" y2="518.78" stroke="#111" stroke-width="1.1"/>
<text x="913.6" y="522.48" font-size="10.3" text-anchor="end">0.20</text>
<line x1="917.2" y1="477.6" x2="922.4" y2="477.6" stroke="#111" stroke-width="1.1"/>
<text x="913.6" y="481.3" font-size="10.3" text-anchor="end">0.25</text>
<line x1="917.2" y1="436.42" x2="922.4" y2="436.42" stroke="#111" stroke-width="1.1"/>
<text x="913.6" y="440.12" font-size="10.3" text-anchor="end">0.30</text>
<line x1="950.6" y1="688.1" x2="950.6" y2="691.6" stroke="#111" stroke-width="1.1"/>
<text x="950.6" y="704.6" font-size="10.3" text-anchor="middle">10</text>
<line x1="993.2" y1="688.1" x2="993.2" y2="691.6" stroke="#111" stroke-width="1.1"/>
<text x="993.2" y="704.6" font-size="10.3" text-anchor="middle">25</text>
<line x1="1064.2" y1="688.1" x2="1064.2" y2="691.6" stroke="#111" stroke-width="1.1"/>
<text x="1064.2" y="704.6" font-size="10.3" text-anchor="middle">50</text>
<line x1="1135.2" y1="688.1" x2="1135.2" y2="691.6" stroke="#111" stroke-width="1.1"/>
<text x="1135.2" y="704.6" font-size="10.3" text-anchor="middle">75</text>
<line x1="1177.8" y1="688.1" x2="1177.8" y2="691.6" stroke="#111" stroke-width="1.1"/>
<text x="1177.8" y="704.6" font-size="10.3" text-anchor="middle">90</text>
<line x1="1206.2" y1="688.1" x2="1206.2" y2="691.6" stroke="#111" stroke-width="1.1"/>
<text x="1206.2" y="704.6" font-size="10.3" text-anchor="middle">100</text>
<text x="1078.5" y="724.5" font-size="13.2" text-anchor="middle">Pd (atom.%)</text>
<text x="867.3" y="567.3" font-size="14.2">n /e</text>
<polyline points="950.6,535.25 993.2,527.02 1064.2,568.2 1135.2,609.38 1177.8,650.56 1206.2,683.5" fill="none" stroke="#777" stroke-width="0.8"/>
<polyline points="950.6,461.13 993.2,494.07 1064.2,551.72 1135.2,592.9 1177.8,642.32 1206.2,683.5" fill="none" stroke="#ff7070" stroke-width="0.8"/>
<rect x="947.8" y="532.45" width="5.6" height="5.6" fill="#000"/>
<rect x="990.4" y="524.22" width="5.6" height="5.6" fill="#000"/>
<rect x="1061.4" y="565.4" width="5.6" height="5.6" fill="#000"/>
<rect x="1132.4" y="606.58" width="5.6" height="5.6" fill="#000"/>
<rect x="1175" y="647.76" width="5.6" height="5.6" fill="#000"/>
<rect x="1203.4" y="680.7" width="5.6" height="5.6" fill="#000"/>
<circle cx="950.6" cy="461.13" r="3.02" fill="#ff0000"/>
<circle cx="993.2" cy="494.07" r="3.02" fill="#ff0000"/>
<circle cx="1064.2" cy="551.72" r="3.02" fill="#ff0000"/>
<circle cx="1135.2" cy="592.9" r="3.02" fill="#ff0000"/>
<circle cx="1177.8" cy="642.32" r="3.02" fill="#ff0000"/>
<circle cx="1206.2" cy="683.5" r="3.02" fill="#ff0000"/>
<rect x="1140.4" y="446.3" width="81.1" height="34" fill="#fff" stroke="#999" stroke-width="0.9"/>
<line x1="1142.8" y1="455.6" x2="1171.6" y2="455.6" stroke="#999" stroke-width="0.9"/>
<line x1="1142.8" y1="471.6" x2="1171.6" y2="471.6" stroke="#ff9090" stroke-width="0.9"/>
<rect x="1154.5" y="452.9" width="5.4" height="5.4" fill="#000"/>
<circle cx="1157.2" cy="471.6" r="3.13" fill="#ff0000"/>
<text x="1175.5" y="460.3" font-size="13.1">XANES</text>
<text x="1175.5" y="476.3" font-size="13.1">BIS</text>
</g>
</svg>
</body></html>
